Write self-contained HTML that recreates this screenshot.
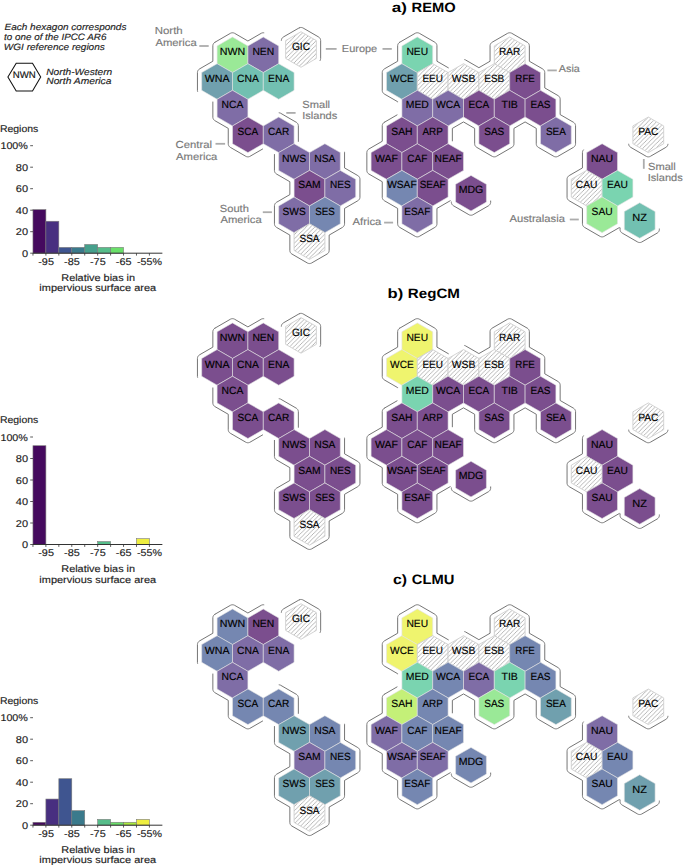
<!DOCTYPE html><html><head><meta charset="utf-8"><title>Hexagon map</title><style>html,body{margin:0;padding:0;background:#fff;}svg{display:block;}text{font-family:"Liberation Sans",sans-serif;text-rendering:geometricPrecision;}</style></head><body>
<svg width="685" height="867" viewBox="0 0 685 867">
<defs><pattern id="hat" patternUnits="userSpaceOnUse" width="4.3" height="4.3"><path d="M-1,1 L1,-1 M0,4.3 L4.3,0 M3.3,5.3 L5.3,3.3" stroke="#7a7a7a" stroke-width="0.55"/></pattern></defs>
<rect width="685" height="867" fill="#fff"/>
<text x="4.47" y="29.80" font-size="9.16" textLength="121.99" lengthAdjust="spacingAndGlyphs" fill="#222" stroke="#222" stroke-width="0.15" font-style="italic">Each hexagon corresponds</text>
<text x="4.14" y="39.70" font-size="9.16" textLength="102.32" lengthAdjust="spacingAndGlyphs" fill="#222" stroke="#222" stroke-width="0.15" font-style="italic">to one of the IPCC AR6</text>
<text x="3.84" y="49.70" font-size="9.16" textLength="100.97" lengthAdjust="spacingAndGlyphs" fill="#222" stroke="#222" stroke-width="0.15" font-style="italic">WGI reference regions</text>
<polygon points="7.90,77.10 16.20,63.30 32.50,63.30 40.70,77.10 32.50,91.00 16.20,91.00" fill="none" stroke="#111" stroke-width="1.05" stroke-linejoin="miter"/>
<text x="12.81" y="77.90" font-size="9.37" textLength="22.98" lengthAdjust="spacingAndGlyphs" fill="#111" stroke="#111" stroke-width="0.15">NWN</text>
<text x="46.27" y="74.80" font-size="9.16" textLength="66.01" lengthAdjust="spacingAndGlyphs" fill="#222" stroke="#222" stroke-width="0.15" font-style="italic">North-Western</text>
<text x="46.27" y="84.30" font-size="9.16" textLength="65.16" lengthAdjust="spacingAndGlyphs" fill="#222" stroke="#222" stroke-width="0.15" font-style="italic">North America</text>
<text x="391.74" y="12.00" font-size="13.64" font-weight="bold" textLength="15.14" lengthAdjust="spacingAndGlyphs" fill="#000">a)</text>
<text x="411.54" y="12.00" font-size="13.64" font-weight="bold" textLength="44.12" lengthAdjust="spacingAndGlyphs" fill="#000">REMO</text>
<g>
<polygon points="232.50,37.02 247.90,45.91 247.90,63.69 232.50,72.58 217.10,63.69 217.10,45.91" fill="#9ae997" stroke="#e2e2e2" stroke-width="0.6"/>
<polygon points="263.30,37.02 278.70,45.91 278.70,63.69 263.30,72.58 247.90,63.69 247.90,45.91" fill="#7f6da6" stroke="#e2e2e2" stroke-width="0.6"/>
<polygon points="217.10,63.69 232.50,72.58 232.50,90.37 217.10,99.26 201.70,90.37 201.70,72.58" fill="#70a0ae" stroke="#e2e2e2" stroke-width="0.6"/>
<polygon points="247.90,63.69 263.30,72.58 263.30,90.37 247.90,99.26 232.50,90.37 232.50,72.58" fill="#72c0b1" stroke="#e2e2e2" stroke-width="0.6"/>
<polygon points="278.70,63.69 294.10,72.58 294.10,90.37 278.70,99.26 263.30,90.37 263.30,72.58" fill="#72c0b1" stroke="#e2e2e2" stroke-width="0.6"/>
<polygon points="232.50,90.37 247.90,99.26 247.90,117.04 232.50,125.93 217.10,117.04 217.10,99.26" fill="#7f6da6" stroke="#e2e2e2" stroke-width="0.6"/>
<polygon points="247.90,117.04 263.30,125.93 263.30,143.71 247.90,152.60 232.50,143.71 232.50,125.93" fill="#7b4e8e" stroke="#e2e2e2" stroke-width="0.6"/>
<polygon points="278.70,117.04 294.10,125.93 294.10,143.71 278.70,152.60 263.30,143.71 263.30,125.93" fill="#7f6da6" stroke="#e2e2e2" stroke-width="0.6"/>
<polygon points="294.10,143.71 309.50,152.60 309.50,170.39 294.10,179.28 278.70,170.39 278.70,152.60" fill="#7f6da6" stroke="#e2e2e2" stroke-width="0.6"/>
<polygon points="324.90,143.71 340.30,152.60 340.30,170.39 324.90,179.28 309.50,170.39 309.50,152.60" fill="#7f6da6" stroke="#e2e2e2" stroke-width="0.6"/>
<polygon points="309.50,170.39 324.90,179.28 324.90,197.06 309.50,205.95 294.10,197.06 294.10,179.28" fill="#7b4e8e" stroke="#e2e2e2" stroke-width="0.6"/>
<polygon points="340.30,170.39 355.70,179.28 355.70,197.06 340.30,205.95 324.90,197.06 324.90,179.28" fill="#7f6da6" stroke="#e2e2e2" stroke-width="0.6"/>
<polygon points="294.10,197.06 309.50,205.95 309.50,223.74 294.10,232.63 278.70,223.74 278.70,205.95" fill="#7f6da6" stroke="#e2e2e2" stroke-width="0.6"/>
<polygon points="324.90,197.06 340.30,205.95 340.30,223.74 324.90,232.63 309.50,223.74 309.50,205.95" fill="#7587b1" stroke="#e2e2e2" stroke-width="0.6"/>
<polygon points="309.50,223.74 324.90,232.63 324.90,250.41 309.50,259.30 294.10,250.41 294.10,232.63" fill="#fff" stroke="#c8c8c8" stroke-width="0.8"/>
<polygon points="309.50,224.24 324.47,232.88 324.47,250.16 309.50,258.80 294.53,250.16 294.53,232.88" fill="url(#hat)"/>
<polygon points="417.30,37.02 432.70,45.91 432.70,63.69 417.30,72.58 401.90,63.69 401.90,45.91" fill="#7ad4b0" stroke="#e2e2e2" stroke-width="0.6"/>
<polygon points="509.70,37.02 525.10,45.91 525.10,63.69 509.70,72.58 494.30,63.69 494.30,45.91" fill="#fff" stroke="#c8c8c8" stroke-width="0.8"/>
<polygon points="509.70,37.52 524.67,46.16 524.67,63.44 509.70,72.08 494.73,63.44 494.73,46.16" fill="url(#hat)"/>
<polygon points="401.90,63.69 417.30,72.58 417.30,90.37 401.90,99.26 386.50,90.37 386.50,72.58" fill="#70a0ae" stroke="#e2e2e2" stroke-width="0.6"/>
<polygon points="432.70,63.69 448.10,72.58 448.10,90.37 432.70,99.26 417.30,90.37 417.30,72.58" fill="#fff" stroke="#c8c8c8" stroke-width="0.8"/>
<polygon points="432.70,64.19 447.67,72.83 447.67,90.12 432.70,98.76 417.73,90.12 417.73,72.83" fill="url(#hat)"/>
<polygon points="463.50,63.69 478.90,72.58 478.90,90.37 463.50,99.26 448.10,90.37 448.10,72.58" fill="#fff" stroke="#c8c8c8" stroke-width="0.8"/>
<polygon points="463.50,64.19 478.47,72.83 478.47,90.12 463.50,98.76 448.53,90.12 448.53,72.83" fill="url(#hat)"/>
<polygon points="494.30,63.69 509.70,72.58 509.70,90.37 494.30,99.26 478.90,90.37 478.90,72.58" fill="#fff" stroke="#c8c8c8" stroke-width="0.8"/>
<polygon points="494.30,64.19 509.27,72.83 509.27,90.12 494.30,98.76 479.33,90.12 479.33,72.83" fill="url(#hat)"/>
<polygon points="525.10,63.69 540.50,72.58 540.50,90.37 525.10,99.26 509.70,90.37 509.70,72.58" fill="#7b4e8e" stroke="#e2e2e2" stroke-width="0.6"/>
<polygon points="417.30,90.37 432.70,99.26 432.70,117.04 417.30,125.93 401.90,117.04 401.90,99.26" fill="#7f6da6" stroke="#e2e2e2" stroke-width="0.6"/>
<polygon points="448.10,90.37 463.50,99.26 463.50,117.04 448.10,125.93 432.70,117.04 432.70,99.26" fill="#7f6da6" stroke="#e2e2e2" stroke-width="0.6"/>
<polygon points="478.90,90.37 494.30,99.26 494.30,117.04 478.90,125.93 463.50,117.04 463.50,99.26" fill="#7b4e8e" stroke="#e2e2e2" stroke-width="0.6"/>
<polygon points="509.70,90.37 525.10,99.26 525.10,117.04 509.70,125.93 494.30,117.04 494.30,99.26" fill="#7b4e8e" stroke="#e2e2e2" stroke-width="0.6"/>
<polygon points="540.50,90.37 555.90,99.26 555.90,117.04 540.50,125.93 525.10,117.04 525.10,99.26" fill="#7b4e8e" stroke="#e2e2e2" stroke-width="0.6"/>
<polygon points="401.90,117.04 417.30,125.93 417.30,143.71 401.90,152.60 386.50,143.71 386.50,125.93" fill="#7b4e8e" stroke="#e2e2e2" stroke-width="0.6"/>
<polygon points="432.70,117.04 448.10,125.93 448.10,143.71 432.70,152.60 417.30,143.71 417.30,125.93" fill="#7b4e8e" stroke="#e2e2e2" stroke-width="0.6"/>
<polygon points="494.30,117.04 509.70,125.93 509.70,143.71 494.30,152.60 478.90,143.71 478.90,125.93" fill="#7b4e8e" stroke="#e2e2e2" stroke-width="0.6"/>
<polygon points="555.90,117.04 571.30,125.93 571.30,143.71 555.90,152.60 540.50,143.71 540.50,125.93" fill="#7f6da6" stroke="#e2e2e2" stroke-width="0.6"/>
<polygon points="386.50,143.71 401.90,152.60 401.90,170.39 386.50,179.28 371.10,170.39 371.10,152.60" fill="#7b4e8e" stroke="#e2e2e2" stroke-width="0.6"/>
<polygon points="417.30,143.71 432.70,152.60 432.70,170.39 417.30,179.28 401.90,170.39 401.90,152.60" fill="#7b4e8e" stroke="#e2e2e2" stroke-width="0.6"/>
<polygon points="448.10,143.71 463.50,152.60 463.50,170.39 448.10,179.28 432.70,170.39 432.70,152.60" fill="#7b4e8e" stroke="#e2e2e2" stroke-width="0.6"/>
<polygon points="401.90,170.39 417.30,179.28 417.30,197.06 401.90,205.95 386.50,197.06 386.50,179.28" fill="#7587b1" stroke="#e2e2e2" stroke-width="0.6"/>
<polygon points="432.70,170.39 448.10,179.28 448.10,197.06 432.70,205.95 417.30,197.06 417.30,179.28" fill="#7b4e8e" stroke="#e2e2e2" stroke-width="0.6"/>
<polygon points="417.30,197.06 432.70,205.95 432.70,223.74 417.30,232.63 401.90,223.74 401.90,205.95" fill="#7f6da6" stroke="#e2e2e2" stroke-width="0.6"/>
<polygon points="602.10,143.71 617.50,152.60 617.50,170.39 602.10,179.28 586.70,170.39 586.70,152.60" fill="#7b4e8e" stroke="#e2e2e2" stroke-width="0.6"/>
<polygon points="586.70,170.39 602.10,179.28 602.10,197.06 586.70,205.95 571.30,197.06 571.30,179.28" fill="#fff" stroke="#c8c8c8" stroke-width="0.8"/>
<polygon points="586.70,170.89 601.67,179.53 601.67,196.81 586.70,205.45 571.73,196.81 571.73,179.53" fill="url(#hat)"/>
<polygon points="617.50,170.39 632.90,179.28 632.90,197.06 617.50,205.95 602.10,197.06 602.10,179.28" fill="#7ad4b0" stroke="#e2e2e2" stroke-width="0.6"/>
<polygon points="602.10,197.06 617.50,205.95 617.50,223.74 602.10,232.63 586.70,223.74 586.70,205.95" fill="#9ae997" stroke="#e2e2e2" stroke-width="0.6"/>
<polygon points="648.30,117.04 663.70,125.93 663.70,143.71 648.30,152.60 632.90,143.71 632.90,125.93" fill="#fff" stroke="#c8c8c8" stroke-width="0.8"/>
<polygon points="648.30,117.54 663.27,126.18 663.27,143.46 648.30,152.10 633.33,143.46 633.33,126.18" fill="url(#hat)"/>
<polygon points="301.00,31.72 316.40,40.61 316.40,58.39 301.00,67.28 285.60,58.39 285.60,40.61" fill="#fff" stroke="#c8c8c8" stroke-width="0.8"/>
<polygon points="301.00,32.22 315.97,40.86 315.97,58.14 301.00,66.78 286.03,58.14 286.03,40.86" fill="url(#hat)"/>
<polygon points="471.00,175.42 486.40,184.31 486.40,202.09 471.00,210.98 455.60,202.09 455.60,184.31" fill="#7b4e8e" stroke="#e2e2e2" stroke-width="0.6"/>
<polygon points="639.70,202.72 655.10,211.61 655.10,229.39 639.70,238.28 624.30,229.39 624.30,211.61" fill="#72c0b1" stroke="#e2e2e2" stroke-width="0.6"/>
</g>
<g fill="none" stroke="#5c5c5c" stroke-width="0.85" stroke-linecap="round" stroke-linejoin="round">
<path d="M197.60,91.48 L197.57,91.37 L197.57,91.36 L197.49,90.97 L197.49,90.97 L197.45,90.57 L197.45,90.57 L197.45,90.37 L197.45,72.58 L197.45,72.38 L197.45,72.38 L197.49,71.98 L197.49,71.98 L197.57,71.58 L197.57,71.58 L197.68,71.19 L197.68,71.19 L197.83,70.82 L197.84,70.82 L198.02,70.46 L198.02,70.46 L198.24,70.12 L198.24,70.12 L198.49,69.80 L198.49,69.80 L198.77,69.51 L198.77,69.51 L199.07,69.24 L199.07,69.24 L199.40,69.01 L199.40,69.01 L199.57,68.90 L212.85,61.24 L212.85,45.91 L212.85,45.71 L212.85,45.70 L212.89,45.31 L212.89,45.30 L212.97,44.91 L212.97,44.90 L213.08,44.52 L213.08,44.52 L213.23,44.15 L213.24,44.14 L213.42,43.79 L213.42,43.78 L213.64,43.45 L213.64,43.44 L213.89,43.13 L213.89,43.12 L214.17,42.83 L214.17,42.83 L214.47,42.57 L214.47,42.57 L214.80,42.33 M214.80,42.33 L214.80,42.33 L214.97,42.23 L230.37,33.34 L230.55,33.24 L230.55,33.24 L230.92,33.07 L230.92,33.07 L231.30,32.94 L231.30,32.94 L231.69,32.84 L231.70,32.84 L232.09,32.79 L232.10,32.79 L232.50,32.77 L232.50,32.77 L232.90,32.79 L232.91,32.79 L233.30,32.84 L233.31,32.84 L233.70,32.94 L233.70,32.94 L234.08,33.07 L234.08,33.07 L234.45,33.24 L234.45,33.24 L234.63,33.34 L247.90,41.00 L261.17,33.34 L261.35,33.24 L261.35,33.24 L261.72,33.07 L261.72,33.07 L262.10,32.94 L262.10,32.94 L262.49,32.84 L262.50,32.84 L262.89,32.79 L262.90,32.79 L263.30,32.77 L263.30,32.77 L263.70,32.79 L263.71,32.79 L263.81,32.80"/>
<path d="M281.36,40.31 L281.39,40.01 L281.39,40.00 L281.47,39.61 L281.47,39.60 L281.58,39.22 L281.58,39.22 L281.73,38.85 L281.74,38.84 L281.92,38.49 L281.92,38.48 L282.14,38.15 L282.14,38.14 L282.39,37.83 L282.39,37.82 L282.67,37.53 L282.67,37.53 L282.97,37.27 L282.97,37.27 L283.30,37.03 L283.30,37.03 L283.47,36.93 L298.87,28.04 L299.05,27.94 M299.05,27.94 L299.05,27.94 L299.42,27.77 L299.42,27.77 L299.80,27.64 L299.80,27.64 L300.19,27.54 L300.20,27.54 L300.59,27.49 L300.60,27.49 L301.00,27.47 L301.00,27.47 L301.40,27.49 L301.41,27.49 L301.80,27.54 L301.81,27.54 L302.20,27.64 L302.20,27.64 L302.58,27.77 L302.58,27.77 L302.95,27.94 L302.95,27.94 L303.13,28.04 L318.53,36.93 L318.70,37.03 L318.70,37.03 L319.03,37.27 L319.03,37.27 L319.33,37.53 L319.33,37.53 L319.61,37.82 L319.61,37.83 L319.86,38.14 L319.86,38.15 L320.08,38.48 L320.08,38.49 L320.26,38.84 L320.27,38.85 L320.42,39.22 L320.42,39.22 L320.53,39.60 L320.53,39.61 L320.61,40.00 L320.61,40.01 L320.65,40.40 L320.65,40.41 L320.65,40.61 L320.65,58.39 L320.65,58.59 L320.65,58.60 L320.61,58.99 L320.61,59.00 L320.53,59.39 L320.53,59.40 L320.42,59.78 L320.42,59.78 L320.27,60.15 L320.26,60.16 L320.08,60.51 L320.08,60.52 L320.02,60.62"/>
<path d="M262.59,149.03 L250.03,156.29 L249.85,156.38 L249.85,156.38 L249.48,156.55 L249.48,156.55 L249.10,156.68 L249.10,156.68 L248.71,156.78 L248.70,156.78 L248.31,156.84 L248.30,156.84 L247.90,156.85 L247.90,156.85 L247.50,156.84 L247.49,156.84 L247.10,156.78 L247.09,156.78 L246.70,156.68 L246.70,156.68 L246.32,156.55 L246.32,156.55 L245.95,156.38 L245.95,156.38 L245.77,156.29 L230.37,147.39 L230.20,147.29 L230.20,147.29 L229.87,147.06 L229.87,147.05 L229.57,146.79 L229.57,146.79 L229.29,146.50 L229.29,146.49 L229.04,146.18 L229.04,146.18 L228.82,145.84 L228.82,145.84 L228.64,145.48 L228.63,145.48 L228.48,145.11 L228.48,145.10 L228.37,144.72 L228.37,144.71 L228.29,144.32 L228.29,144.32 L228.25,143.92 L228.25,143.91 L228.25,143.71 L228.25,128.38 L214.97,120.72 L214.80,120.62 L214.80,120.61 L214.47,120.38 L214.47,120.38 L214.17,120.12 L214.17,120.11 L213.89,119.82 L213.89,119.82 L213.64,119.51 L213.64,119.50 L213.42,119.17 L213.42,119.16 L213.24,118.81 L213.23,118.80 L213.08,118.43 L213.08,118.43 L212.97,118.04 L212.97,118.04 L212.89,117.65 L212.89,117.64 L212.85,117.24 L212.85,117.24 L212.85,117.04 L212.85,102.00"/>
<path d="M279.15,112.82 L279.50,112.87 L279.51,112.87 L279.90,112.96 L279.90,112.96 L280.28,113.09 L280.28,113.09 L280.65,113.26 L280.65,113.26 L280.83,113.36 L296.23,122.25 L296.40,122.35 L296.40,122.36 L296.73,122.59 L296.73,122.59 L297.03,122.85 L297.03,122.86 L297.31,123.15 L297.31,123.15 L297.56,123.46 L297.56,123.47 L297.78,123.80 L297.78,123.81 L297.96,124.16 L297.97,124.17 L298.12,124.54 L298.12,124.54 L298.23,124.93 L298.23,124.93 L298.31,125.32 L298.31,125.33 L298.35,125.73 L298.35,125.73 L298.35,125.93 L298.35,141.40"/>
<path d="M344.51,152.00 L344.51,152.00 L344.55,152.40 L344.55,152.40 L344.55,152.60 L344.55,167.93 L357.83,175.60 L358.00,175.70 L358.00,175.70 L358.33,175.94 L358.33,175.94 L358.63,176.20 L358.63,176.20 L358.91,176.49 L358.91,176.50 L359.16,176.81 L359.16,176.82 L359.38,177.15 L359.38,177.16 L359.56,177.51 L359.57,177.52 L359.72,177.89 L359.72,177.89 L359.83,178.27 L359.83,178.28 L359.91,178.67 L359.91,178.68 L359.95,179.07 L359.95,179.08 L359.95,179.28 L359.95,197.06 L359.95,197.26 L359.95,197.27 L359.91,197.66 L359.91,197.67 L359.83,198.06 L359.83,198.07 L359.72,198.45 L359.72,198.45 L359.57,198.82 L359.56,198.83 L359.38,199.18 L359.38,199.19 L359.16,199.52 L359.16,199.53 L358.91,199.84 L358.91,199.85 L358.63,200.14 L358.63,200.14 L358.33,200.40 L358.33,200.40 L358.00,200.64 L358.00,200.64 L357.83,200.74 L344.55,208.41 L344.55,223.74 L344.55,223.94 L344.55,223.94 L344.51,224.34 L344.51,224.34 L344.43,224.73 L344.43,224.74 L344.32,225.12 L344.32,225.13 L344.17,225.50 L344.16,225.50 L343.98,225.86 L343.98,225.86 L343.76,226.20 L343.76,226.20 L343.51,226.52 L343.51,226.52 L343.23,226.81 L343.23,226.81 L342.93,227.07 L342.93,227.08 L342.60,227.31 L342.60,227.31 L342.43,227.42 L329.15,235.08 L329.15,250.41 L329.15,250.61 L329.15,250.61 L329.11,251.01 L329.11,251.02 L329.03,251.41 L329.03,251.41 L328.92,251.80 L328.92,251.80 L328.77,252.17 L328.76,252.18 L328.58,252.53 L328.58,252.54 L328.36,252.87 L328.36,252.88 L328.11,253.19 L328.11,253.19 L327.83,253.48 L327.83,253.49 L327.53,253.75 L327.53,253.75 L327.20,253.98 L327.20,253.99 L327.03,254.09 L311.63,262.98 L311.45,263.08 L311.45,263.08 L311.08,263.25 L311.08,263.25 L310.70,263.38 L310.70,263.38 L310.31,263.47 L310.30,263.47 L309.91,263.53 L309.90,263.53 L309.50,263.55 L309.50,263.55 L309.10,263.53 L309.09,263.53 L308.70,263.47 L308.69,263.47 L308.30,263.38 L308.30,263.38 L307.92,263.25 L307.92,263.25 L307.55,263.08 L307.55,263.08 L307.37,262.98 L291.97,254.09 L291.80,253.99 L291.80,253.98 L291.47,253.75 L291.47,253.75 L291.17,253.49 L291.17,253.48 L290.89,253.19 L290.89,253.19 L290.64,252.88 L290.64,252.87 L290.42,252.54 L290.42,252.53 L290.24,252.18 L290.23,252.17 L290.08,251.80 L290.08,251.80 L289.97,251.41 L289.97,251.41 L289.89,251.02 L289.89,251.01 L289.85,250.61 L289.85,250.61 L289.85,250.41 L289.85,235.08 L276.57,227.42 L276.40,227.31 L276.40,227.31 L276.07,227.08 L276.07,227.07 L275.77,226.81 L275.77,226.81 L275.49,226.52 L275.49,226.52 L275.24,226.20 L275.24,226.20 L275.02,225.86 L275.02,225.86 L274.84,225.50 L274.83,225.50 L274.68,225.13 L274.68,225.12 L274.57,224.74 L274.57,224.73 L274.49,224.34 L274.49,224.34 L274.45,223.94 L274.45,223.94 L274.45,223.74 L274.45,205.95 L274.45,205.75 L274.45,205.75 L274.49,205.35 L274.49,205.35 L274.57,204.95 L274.57,204.95 L274.68,204.56 L274.68,204.56 L274.83,204.19 L274.84,204.19 L275.02,203.83 L275.02,203.83 L275.24,203.49 L275.24,203.49 L275.49,203.17 L275.49,203.17 L275.77,202.88 L275.77,202.88 L276.07,202.61 L276.07,202.61 L276.40,202.38 L276.40,202.38 L276.57,202.27 L289.85,194.61 L289.85,181.73 L276.57,174.07 L276.40,173.96 L276.40,173.96 L276.07,173.73 L276.07,173.73 L275.77,173.46 L275.77,173.46 L275.49,173.17 L275.49,173.17 L275.24,172.85 L275.24,172.85 L275.02,172.51 L275.02,172.51 L274.84,172.15 L274.83,172.15 L274.68,171.78 L274.68,171.78 L274.57,171.39 L274.57,171.39 L274.49,170.99 L274.49,170.99 L274.45,170.59 L274.45,170.59 L274.45,170.39 L274.45,154.50"/>
<path d="M397.65,101.80 L397.65,101.71 L384.37,94.05 L384.20,93.94 L384.20,93.94 L383.87,93.71 L383.87,93.70 L383.57,93.44 L383.57,93.44 L383.29,93.15 L383.29,93.15 L383.04,92.83 L383.04,92.83 L382.82,92.49 L382.82,92.49 L382.64,92.13 L382.63,92.13 L382.48,91.76 L382.48,91.75 L382.37,91.37 L382.37,91.36 L382.29,90.97 L382.29,90.97 L382.25,90.57 L382.25,90.57 L382.25,90.37 L382.25,72.58 L382.25,72.38 L382.25,72.38 L382.29,71.98 L382.29,71.98 L382.37,71.58 L382.37,71.58 L382.48,71.19 L382.48,71.19 L382.63,70.82 L382.64,70.82 L382.82,70.46 L382.82,70.46 L383.04,70.12 L383.04,70.12 L383.29,69.80 L383.29,69.80 L383.57,69.51 L383.57,69.51 L383.87,69.24 L383.87,69.24 L384.20,69.01 L384.20,69.01 L384.37,68.90 L397.65,61.24 L397.65,45.91 L397.65,45.71 L397.65,45.70 L397.69,45.31 L397.69,45.30 L397.77,44.91 L397.77,44.90 L397.88,44.52 L397.88,44.52 L398.03,44.15 L398.04,44.14 L398.22,43.79 L398.22,43.78 L398.44,43.45 L398.44,43.44 L398.69,43.13 L398.69,43.12 L398.97,42.83 L398.97,42.83 L399.27,42.57 L399.27,42.57 L399.60,42.33 M399.60,42.33 L399.60,42.33 L399.77,42.23 L415.17,33.34 L415.35,33.24 L415.35,33.24 L415.72,33.07 L415.72,33.07 L416.10,32.94 L416.10,32.94 L416.49,32.84 L416.50,32.84 L416.89,32.79 L416.90,32.79 L417.30,32.77 L417.30,32.77 L417.70,32.79 L417.71,32.79 L418.10,32.84 L418.11,32.84 L418.50,32.94 L418.50,32.94 L418.88,33.07 L418.88,33.07 L419.25,33.24 L419.25,33.24 L419.43,33.34 L434.83,42.23 L435.00,42.33 L435.00,42.33 L435.33,42.57 L435.33,42.57 L435.63,42.83 L435.63,42.83 L435.91,43.12 L435.91,43.13 L436.16,43.44 L436.16,43.45 L436.38,43.78 L436.38,43.79 L436.56,44.14 L436.57,44.15 L436.72,44.52 L436.72,44.52 L436.83,44.90 L436.83,44.91 L436.91,45.30 L436.91,45.31 L436.95,45.70 L436.95,45.71 L436.95,45.91 L436.95,61.24 L448.37,67.83"/>
<path d="M464.67,59.61 L464.70,59.61 L464.70,59.61 L465.08,59.74 L465.08,59.75 L465.45,59.91 L465.45,59.91 L465.63,60.01 L478.90,67.68 L490.05,61.24 L490.05,45.91 L490.05,45.71 L490.05,45.70 L490.09,45.31 L490.09,45.30 L490.17,44.91 L490.17,44.90 L490.28,44.52 L490.28,44.52 L490.43,44.15 L490.44,44.14 L490.62,43.79 L490.62,43.78 L490.84,43.45 L490.84,43.44 L491.09,43.13 L491.09,43.12 L491.37,42.83 L491.37,42.83 L491.67,42.57 L491.67,42.57 L492.00,42.33 L492.00,42.33 L492.17,42.23 L507.57,33.34 L507.75,33.24 L507.75,33.24 L508.12,33.07 L508.12,33.07 L508.50,32.94 L508.50,32.94 L508.89,32.84 L508.90,32.84 L509.29,32.79 L509.30,32.79 L509.70,32.77 L509.70,32.77 L510.10,32.79 L510.11,32.79 L510.50,32.84 L510.51,32.84 L510.90,32.94 L510.90,32.94 L511.28,33.07 L511.28,33.07 L511.65,33.24 L511.65,33.24 L511.83,33.34 L527.23,42.23 L527.40,42.33 L527.40,42.33 L527.73,42.57 L527.73,42.57 L528.03,42.83 L528.03,42.83 L528.31,43.12 L528.31,43.13 L528.56,43.44 L528.56,43.45 L528.78,43.78 L528.78,43.79 L528.96,44.14 L528.97,44.15 L529.12,44.52 L529.12,44.52 L529.23,44.90 L529.23,44.91 L529.31,45.30 L529.31,45.31 L529.35,45.70 L529.35,45.71 L529.35,45.91 L529.35,61.24 L542.63,68.90 L542.80,69.01 L542.80,69.01 L543.13,69.24 L543.13,69.24 L543.43,69.51 L543.43,69.51 L543.71,69.80 L543.71,69.80 L543.96,70.12 L543.96,70.12 L544.18,70.46 L544.18,70.46 L544.36,70.82 L544.37,70.82 L544.52,71.19 L544.52,71.19 L544.63,71.58 L544.63,71.58 L544.71,71.98 L544.71,71.98 L544.75,72.38 L544.75,72.38 L544.75,72.58 L544.75,87.91 L558.03,95.58 L558.20,95.68 L558.20,95.68 L558.53,95.91 L558.53,95.92 L558.83,96.18 L558.83,96.18 L559.11,96.47 L559.11,96.48 L559.36,96.79 L559.36,96.79 L559.58,97.13 L559.58,97.13 L559.76,97.49 L559.77,97.49 L559.92,97.86 L559.92,97.87 L560.03,98.25 L560.03,98.26 L560.11,98.65 L560.11,98.65 L560.15,99.05 L560.15,99.06 L560.15,99.26 L560.15,114.59 L573.43,122.25 L573.60,122.35 L573.60,122.36 L573.93,122.59 L573.93,122.59 L574.23,122.85 L574.23,122.86 L574.51,123.15 L574.51,123.15 L574.76,123.46 L574.76,123.47 L574.98,123.80 L574.98,123.81 L575.16,124.16 L575.17,124.17 L575.32,124.54 L575.32,124.54 L575.43,124.93 L575.43,124.93 L575.51,125.32 L575.51,125.33 L575.55,125.73 L575.55,125.73 L575.55,125.93 L575.55,143.71 L575.55,143.91 L575.55,143.92 L575.51,144.32 L575.51,144.32 L575.43,144.71 L575.43,144.72 L575.32,145.10 L575.32,145.11 L575.17,145.48 L575.16,145.48 L574.98,145.84 L574.98,145.84 L574.76,146.18 L574.76,146.18 L574.51,146.49 L574.51,146.50 L574.23,146.79 L574.23,146.79 L573.93,147.05 L573.93,147.06 L573.60,147.29 L573.60,147.29 L573.43,147.39 L558.03,156.29 L557.85,156.38 L557.85,156.38 L557.48,156.55 L557.48,156.55 L557.10,156.68 L557.10,156.68 L556.71,156.78 L556.70,156.78 L556.31,156.84 L556.30,156.84 L555.90,156.85 L555.90,156.85 L555.50,156.84 L555.49,156.84 L555.10,156.78 L555.09,156.78 L554.70,156.68 L554.70,156.68 L554.32,156.55 L554.32,156.55 L553.95,156.38 L553.95,156.38 L553.77,156.29 L538.37,147.39 L538.20,147.29 L538.20,147.29 L537.87,147.06 L537.87,147.05 L537.57,146.79 L537.57,146.79 L537.29,146.50 L537.29,146.49 L537.04,146.18 L537.04,146.18 L536.82,145.84 L536.82,145.84 L536.64,145.48 L536.63,145.48 L536.48,145.11 L536.48,145.10 L536.37,144.72 L536.37,144.71 L536.29,144.32 L536.29,144.32 L536.25,143.92 L536.25,143.91 L536.25,143.71 L536.25,128.38 L525.10,121.95 L513.95,128.38 L513.95,143.71 L513.95,143.91 L513.95,143.92 L513.91,144.32 L513.91,144.32 L513.83,144.71 L513.83,144.72 L513.72,145.10 L513.72,145.11 L513.57,145.48 L513.56,145.48 L513.38,145.84 L513.38,145.84 L513.16,146.18 L513.16,146.18 L512.91,146.49 L512.91,146.50 L512.63,146.79 L512.63,146.79 L512.33,147.05 L512.33,147.06 L512.00,147.29 L512.00,147.29 L511.83,147.39 L496.43,156.29 L496.25,156.38 L496.25,156.38 L495.88,156.55 L495.88,156.55 L495.50,156.68 L495.50,156.68 L495.11,156.78 L495.10,156.78 L494.71,156.84 L494.70,156.84 L494.30,156.85 L494.30,156.85 L493.90,156.84 L493.89,156.84 L493.50,156.78 L493.49,156.78 L493.10,156.68 L493.10,156.68 L492.72,156.55 L492.72,156.55 L492.35,156.38 L492.35,156.38 L492.17,156.29 L476.77,147.39 L476.60,147.29 L476.60,147.29 L476.27,147.06 L476.27,147.05 L475.97,146.79 L475.97,146.79 L475.69,146.50 L475.69,146.49 L475.44,146.18 L475.44,146.18 L475.22,145.84 L475.22,145.84 L475.04,145.48 L475.03,145.48 L474.88,145.11 L474.88,145.10 L474.77,144.72 L474.77,144.71 L474.69,144.32 L474.69,144.32 L474.65,143.92 L474.65,143.91 L474.65,143.71 L474.65,128.38 L463.50,121.95 L452.35,128.38 L452.35,140.90"/>
<path d="M450.19,200.76 L436.95,208.41 L436.95,223.74 L436.95,223.94 L436.95,223.94 L436.91,224.34 L436.91,224.34 L436.83,224.73 L436.83,224.74 L436.72,225.12 L436.72,225.13 L436.57,225.50 L436.56,225.50 L436.38,225.86 L436.38,225.86 L436.16,226.20 L436.16,226.20 L435.91,226.52 L435.91,226.52 L435.63,226.81 L435.63,226.81 L435.33,227.07 L435.33,227.08 L435.00,227.31 L435.00,227.31 L434.83,227.42 L419.43,236.31 L419.25,236.40 L419.25,236.41 L418.88,236.57 L418.88,236.57 L418.50,236.70 L418.50,236.71 L418.11,236.80 L418.10,236.80 L417.71,236.86 L417.70,236.86 L417.30,236.88 L417.30,236.88 L416.90,236.86 L416.89,236.86 L416.50,236.80 L416.49,236.80 L416.10,236.71 L416.10,236.70 L415.72,236.57 L415.72,236.57 L415.35,236.41 L415.35,236.40 L415.17,236.31 L399.77,227.42 L399.60,227.31 L399.60,227.31 L399.27,227.08 L399.27,227.07 L398.97,226.81 L398.97,226.81 L398.69,226.52 L398.69,226.52 L398.44,226.20 L398.44,226.20 L398.22,225.86 L398.22,225.86 L398.04,225.50 L398.03,225.50 L397.88,225.13 L397.88,225.12 L397.77,224.74 L397.77,224.73 L397.69,224.34 L397.69,224.34 L397.65,223.94 L397.65,223.94 L397.65,223.74 L397.65,208.41 L384.37,200.74 L384.20,200.64 L384.20,200.64 L383.87,200.40 L383.87,200.40 L383.57,200.14 L383.57,200.14 L383.29,199.85 L383.29,199.84 L383.04,199.53 L383.04,199.52 L382.82,199.19 L382.82,199.18 L382.64,198.83 L382.63,198.82 L382.48,198.45 L382.48,198.45 L382.37,198.07 L382.37,198.06 L382.29,197.67 L382.29,197.66 L382.25,197.27 L382.25,197.26 L382.25,197.06 L382.25,181.73 L368.97,174.07 L368.80,173.96 L368.80,173.96 L368.47,173.73 L368.47,173.73 L368.17,173.46 L368.17,173.46 L367.89,173.17 L367.89,173.17 L367.64,172.85 L367.64,172.85 L367.42,172.51 L367.42,172.51 L367.24,172.15 L367.23,172.15 L367.08,171.78 L367.08,171.78 L366.97,171.39 L366.97,171.39 L366.89,170.99 L366.89,170.99 L366.85,170.59 L366.85,170.59 L366.85,170.39 L366.85,152.60 L366.85,152.40 L366.85,152.40 L366.89,152.00 L366.89,152.00 L366.97,151.61 L366.97,151.60 L367.08,151.22 L367.08,151.21 L367.23,150.84 L367.24,150.84 L367.42,150.48 L367.42,150.48 L367.64,150.14 L367.64,150.14 L367.89,149.82 L367.89,149.82 L368.17,149.53 L368.17,149.53 L368.47,149.27 L368.47,149.26 L368.80,149.03 L368.80,149.03 L368.97,148.92 L382.25,141.26 L382.25,125.93 L382.25,125.73 L382.25,125.73 L382.29,125.33 L382.29,125.32 L382.37,124.93 L382.37,124.93 L382.48,124.54 L382.48,124.54 L382.63,124.17 L382.64,124.16 L382.82,123.81 L382.82,123.80 L383.04,123.47 L383.04,123.46 L383.29,123.15 L383.29,123.15 L383.57,122.86 L383.57,122.85 L383.87,122.59 L383.87,122.59 L384.20,122.36 M384.20,122.36 L384.20,122.35 L384.37,122.25 L397.05,114.93"/>
<path d="M490.65,201.00 L490.65,202.09 L490.65,202.29 L490.65,202.30 L490.61,202.69 L490.61,202.70 L490.53,203.09 L490.53,203.10 L490.42,203.48 L490.42,203.48 L490.27,203.85 L490.26,203.86 L490.08,204.21 L490.08,204.22 L489.86,204.55 L489.86,204.56 L489.61,204.87 L489.61,204.88 L489.33,205.17 L489.33,205.17 L489.03,205.43 L489.03,205.43 L488.70,205.67 L488.70,205.67 L488.53,205.77 L473.13,214.66 L472.95,214.76 L472.95,214.76 L472.58,214.93 L472.58,214.93 L472.20,215.06 L472.20,215.06 L471.81,215.16 L471.80,215.16 L471.41,215.21 L471.40,215.21 L471.00,215.23 L471.00,215.23 L470.60,215.21 L470.59,215.21 L470.20,215.16 L470.19,215.16 L469.80,215.06 L469.80,215.06 L469.42,214.93 L469.42,214.93 L469.05,214.76 L469.05,214.76 L468.87,214.66 L453.47,205.77 L453.30,205.67 L453.30,205.67 L452.97,205.43 L452.97,205.43 L452.67,205.17 L452.67,205.17 L452.39,204.88 L452.39,204.87 L452.14,204.56 L452.14,204.55 L451.92,204.22 L451.92,204.21 L451.74,203.86 L451.73,203.85 L451.58,203.48 L451.58,203.48 L451.47,203.10 L451.47,203.09 L451.39,202.70 L451.39,202.69 L451.35,202.30 L451.35,202.29 L451.35,202.09 L451.35,202.00"/>
<path d="M619.28,227.62 L604.23,236.31 L604.05,236.40 L604.05,236.41 L603.68,236.57 L603.68,236.57 L603.30,236.70 L603.30,236.71 L602.91,236.80 L602.90,236.80 L602.51,236.86 L602.50,236.86 L602.10,236.88 L602.10,236.88 L601.70,236.86 L601.69,236.86 L601.30,236.80 L601.29,236.80 L600.90,236.71 L600.90,236.70 L600.52,236.57 L600.52,236.57 L600.15,236.41 L600.15,236.40 L599.97,236.31 L584.57,227.42 L584.40,227.31 L584.40,227.31 L584.07,227.08 L584.07,227.07 L583.77,226.81 L583.77,226.81 L583.49,226.52 L583.49,226.52 L583.24,226.20 L583.24,226.20 L583.02,225.86 L583.02,225.86 L582.84,225.50 L582.83,225.50 L582.68,225.13 L582.68,225.12 L582.57,224.74 L582.57,224.73 L582.49,224.34 L582.49,224.34 L582.45,223.94 L582.45,223.94 L582.45,223.74 L582.45,208.41 L569.17,200.74 L569.00,200.64 L569.00,200.64 L568.67,200.40 L568.67,200.40 L568.37,200.14 L568.37,200.14 L568.09,199.85 L568.09,199.84 L567.84,199.53 L567.84,199.52 L567.62,199.19 L567.62,199.18 L567.44,198.83 L567.43,198.82 L567.28,198.45 L567.28,198.45 L567.17,198.07 L567.17,198.06 L567.09,197.67 L567.09,197.66 L567.05,197.27 L567.05,197.26 L567.05,197.06 L567.05,179.28 L567.05,179.08 L567.05,179.07 L567.09,178.68 L567.09,178.67 L567.17,178.28 L567.17,178.27 L567.28,177.89 L567.28,177.89 L567.43,177.52 L567.44,177.51 L567.62,177.16 L567.62,177.15 L567.84,176.82 L567.84,176.81 L568.09,176.50 L568.09,176.49 L568.37,176.20 L568.37,176.20 L568.67,175.94 L568.67,175.94 L569.00,175.70 L569.00,175.70 L569.17,175.60 L582.45,167.93 L582.45,152.60 L582.45,152.40 L582.45,152.40 L582.49,152.00 L582.49,152.00 L582.57,151.61 L582.57,151.60 L582.68,151.22 L582.68,151.21 L582.83,150.84 L582.84,150.84 L583.02,150.48 L583.02,150.48 L583.24,150.14 L583.24,150.14 L583.41,149.92"/>
<path d="M659.35,229.00 L659.35,229.39 L659.35,229.59 L659.35,229.60 L659.31,229.99 L659.31,230.00 L659.23,230.39 L659.23,230.40 L659.12,230.78 L659.12,230.78 L658.97,231.15 L658.96,231.16 L658.78,231.51 L658.78,231.52 L658.56,231.85 L658.56,231.86 L658.31,232.17 L658.31,232.18 L658.03,232.47 L658.03,232.47 L657.73,232.73 L657.73,232.73 L657.40,232.97 L657.40,232.97 L657.23,233.07 L641.83,241.96 L641.65,242.06 L641.65,242.06 L641.28,242.23 L641.28,242.23 L640.90,242.36 L640.90,242.36 L640.51,242.46 L640.50,242.46 L640.11,242.51 L640.10,242.51 L639.70,242.53 L639.70,242.53 L639.30,242.51 L639.29,242.51 L638.90,242.46 L638.89,242.46 L638.50,242.36 L638.50,242.36 L638.12,242.23 L638.12,242.23 L637.75,242.06 L637.75,242.06 L637.57,241.96 L622.17,233.07 L622.00,232.97 L622.00,232.97 L621.67,232.73 L621.67,232.73 L621.37,232.47 L621.37,232.47 L621.09,232.18 L621.09,232.17 L620.84,231.86 L620.84,231.85 L620.62,231.52 L620.62,231.51 L620.44,231.16 L620.43,231.15 L620.28,230.78 L620.28,230.78 L620.17,230.40 L620.17,230.39 L620.09,230.00 L620.09,229.99 L620.05,229.60 L620.05,229.59 L620.05,229.39 L620.05,228.00"/>
<path d="M667.92,144.23 L667.91,144.32 L667.91,144.32 L667.83,144.71 L667.83,144.72 L667.72,145.10 L667.72,145.11 L667.57,145.48 L667.56,145.48 L667.38,145.84 L667.38,145.84 L667.16,146.18 L667.16,146.18 L666.91,146.49 L666.91,146.50 L666.63,146.79 L666.63,146.79 L666.33,147.05 L666.33,147.06 L666.00,147.29 L666.00,147.29 L665.83,147.39 L650.43,156.29 L650.25,156.38 L650.25,156.38 L649.88,156.55 L649.88,156.55 L649.50,156.68 L649.50,156.68 L649.11,156.78 L649.10,156.78 L648.71,156.84 L648.70,156.84 L648.30,156.85 L648.30,156.85 L647.90,156.84 L647.89,156.84 L647.50,156.78 L647.49,156.78 L647.10,156.68 L647.10,156.68 L646.72,156.55 L646.72,156.55 L646.35,156.38 L646.35,156.38 L646.17,156.29 L630.77,147.39 L630.60,147.29 L630.60,147.29 L630.27,147.06 L630.27,147.05 L629.97,146.79 L629.97,146.79 L629.69,146.50 L629.69,146.49 L629.44,146.18 L629.44,146.18 L629.22,145.84 L629.22,145.84 L629.04,145.48 L629.03,145.48 L628.88,145.11 L628.88,145.10 L628.77,144.72 L628.77,144.71 L628.69,144.32 L628.69,144.32 L628.68,144.16"/>
</g>
<text x="219.77" y="54.95" font-size="10.49" textLength="25.47" lengthAdjust="spacingAndGlyphs" fill="#000" stroke="#000" stroke-width="0.15">NWN</text>
<text x="252.39" y="54.95" font-size="10.49" textLength="21.81" lengthAdjust="spacingAndGlyphs" fill="#000" stroke="#000" stroke-width="0.15">NEN</text>
<text x="204.69" y="81.62" font-size="10.49" textLength="24.81" lengthAdjust="spacingAndGlyphs" fill="#000" stroke="#000" stroke-width="0.15">WNA</text>
<text x="236.98" y="81.62" font-size="10.49" textLength="21.84" lengthAdjust="spacingAndGlyphs" fill="#000" stroke="#000" stroke-width="0.15">CNA</text>
<text x="268.12" y="81.62" font-size="10.49" textLength="21.16" lengthAdjust="spacingAndGlyphs" fill="#000" stroke="#000" stroke-width="0.15">ENA</text>
<text x="221.58" y="108.30" font-size="10.49" textLength="21.84" lengthAdjust="spacingAndGlyphs" fill="#000" stroke="#000" stroke-width="0.15">NCA</text>
<text x="237.56" y="134.97" font-size="10.49" textLength="20.68" lengthAdjust="spacingAndGlyphs" fill="#000" stroke="#000" stroke-width="0.15">SCA</text>
<text x="268.05" y="134.97" font-size="10.49" textLength="21.29" lengthAdjust="spacingAndGlyphs" fill="#000" stroke="#000" stroke-width="0.15">CAR</text>
<text x="281.95" y="161.65" font-size="10.49" textLength="24.31" lengthAdjust="spacingAndGlyphs" fill="#000" stroke="#000" stroke-width="0.15">NWS</text>
<text x="314.31" y="161.65" font-size="10.49" textLength="21.19" lengthAdjust="spacingAndGlyphs" fill="#000" stroke="#000" stroke-width="0.15">NSA</text>
<text x="298.32" y="188.32" font-size="10.49" textLength="22.36" lengthAdjust="spacingAndGlyphs" fill="#000" stroke="#000" stroke-width="0.15">SAM</text>
<text x="329.97" y="188.32" font-size="10.49" textLength="20.65" lengthAdjust="spacingAndGlyphs" fill="#000" stroke="#000" stroke-width="0.15">NES</text>
<text x="282.53" y="214.99" font-size="10.49" textLength="23.15" lengthAdjust="spacingAndGlyphs" fill="#000" stroke="#000" stroke-width="0.15">SWS</text>
<text x="315.16" y="214.99" font-size="10.49" textLength="19.49" lengthAdjust="spacingAndGlyphs" fill="#000" stroke="#000" stroke-width="0.15">SES</text>
<text x="299.49" y="241.67" font-size="10.49" textLength="20.02" lengthAdjust="spacingAndGlyphs" fill="#000" stroke="#000" stroke-width="0.15">SSA</text>
<text x="406.48" y="54.95" font-size="10.49" textLength="21.65" lengthAdjust="spacingAndGlyphs" fill="#000" stroke="#000" stroke-width="0.15">NEU</text>
<text x="499.07" y="54.95" font-size="10.49" textLength="21.26" lengthAdjust="spacingAndGlyphs" fill="#000" stroke="#000" stroke-width="0.15">RAR</text>
<text x="390.02" y="81.62" font-size="10.49" textLength="23.77" lengthAdjust="spacingAndGlyphs" fill="#000" stroke="#000" stroke-width="0.15">WCE</text>
<text x="422.47" y="81.62" font-size="10.49" textLength="20.45" lengthAdjust="spacingAndGlyphs" fill="#000" stroke="#000" stroke-width="0.15">EEU</text>
<text x="451.66" y="81.62" font-size="10.49" textLength="23.67" lengthAdjust="spacingAndGlyphs" fill="#000" stroke="#000" stroke-width="0.15">WSB</text>
<text x="484.29" y="81.62" font-size="10.49" textLength="20.01" lengthAdjust="spacingAndGlyphs" fill="#000" stroke="#000" stroke-width="0.15">ESB</text>
<text x="515.35" y="81.62" font-size="10.49" textLength="19.49" lengthAdjust="spacingAndGlyphs" fill="#000" stroke="#000" stroke-width="0.15">RFE</text>
<text x="405.69" y="108.30" font-size="10.49" textLength="23.21" lengthAdjust="spacingAndGlyphs" fill="#000" stroke="#000" stroke-width="0.15">MED</text>
<text x="435.95" y="108.30" font-size="10.49" textLength="24.30" lengthAdjust="spacingAndGlyphs" fill="#000" stroke="#000" stroke-width="0.15">WCA</text>
<text x="468.58" y="108.30" font-size="10.49" textLength="20.65" lengthAdjust="spacingAndGlyphs" fill="#000" stroke="#000" stroke-width="0.15">ECA</text>
<text x="501.54" y="108.30" font-size="10.49" textLength="16.32" lengthAdjust="spacingAndGlyphs" fill="#000" stroke="#000" stroke-width="0.15">TIB</text>
<text x="530.50" y="108.30" font-size="10.49" textLength="19.99" lengthAdjust="spacingAndGlyphs" fill="#000" stroke="#000" stroke-width="0.15">EAS</text>
<text x="391.29" y="134.97" font-size="10.49" textLength="21.23" lengthAdjust="spacingAndGlyphs" fill="#000" stroke="#000" stroke-width="0.15">SAH</text>
<text x="422.54" y="134.97" font-size="10.49" textLength="20.31" lengthAdjust="spacingAndGlyphs" fill="#000" stroke="#000" stroke-width="0.15">ARP</text>
<text x="484.29" y="134.97" font-size="10.49" textLength="20.02" lengthAdjust="spacingAndGlyphs" fill="#000" stroke="#000" stroke-width="0.15">SAS</text>
<text x="545.90" y="134.97" font-size="10.49" textLength="19.99" lengthAdjust="spacingAndGlyphs" fill="#000" stroke="#000" stroke-width="0.15">SEA</text>
<text x="374.98" y="161.65" font-size="10.49" textLength="23.04" lengthAdjust="spacingAndGlyphs" fill="#000" stroke="#000" stroke-width="0.15">WAF</text>
<text x="407.27" y="161.65" font-size="10.49" textLength="20.06" lengthAdjust="spacingAndGlyphs" fill="#000" stroke="#000" stroke-width="0.15">CAF</text>
<text x="434.57" y="161.65" font-size="10.49" textLength="27.05" lengthAdjust="spacingAndGlyphs" fill="#000" stroke="#000" stroke-width="0.15">NEAF</text>
<text x="387.13" y="188.32" font-size="10.49" textLength="29.55" lengthAdjust="spacingAndGlyphs" fill="#000" stroke="#000" stroke-width="0.15">WSAF</text>
<text x="419.75" y="188.32" font-size="10.49" textLength="25.89" lengthAdjust="spacingAndGlyphs" fill="#000" stroke="#000" stroke-width="0.15">SEAF</text>
<text x="404.35" y="214.99" font-size="10.49" textLength="25.89" lengthAdjust="spacingAndGlyphs" fill="#000" stroke="#000" stroke-width="0.15">ESAF</text>
<text x="591.01" y="161.65" font-size="10.49" textLength="22.18" lengthAdjust="spacingAndGlyphs" fill="#000" stroke="#000" stroke-width="0.15">NAU</text>
<text x="575.86" y="188.32" font-size="10.49" textLength="21.67" lengthAdjust="spacingAndGlyphs" fill="#000" stroke="#000" stroke-width="0.15">CAU</text>
<text x="607.00" y="188.32" font-size="10.49" textLength="20.99" lengthAdjust="spacingAndGlyphs" fill="#000" stroke="#000" stroke-width="0.15">EAU</text>
<text x="591.59" y="214.99" font-size="10.49" textLength="21.02" lengthAdjust="spacingAndGlyphs" fill="#000" stroke="#000" stroke-width="0.15">SAU</text>
<text x="638.13" y="134.97" font-size="10.49" textLength="20.35" lengthAdjust="spacingAndGlyphs" fill="#000" stroke="#000" stroke-width="0.15">PAC</text>
<text x="291.94" y="49.65" font-size="10.49" textLength="18.12" lengthAdjust="spacingAndGlyphs" fill="#000" stroke="#000" stroke-width="0.15">GIC</text>
<text x="458.66" y="193.35" font-size="10.49" textLength="24.68" lengthAdjust="spacingAndGlyphs" fill="#000" stroke="#000" stroke-width="0.15">MDG</text>
<text x="632.36" y="220.65" font-size="10.49" textLength="14.69" lengthAdjust="spacingAndGlyphs" fill="#000" stroke="#000" stroke-width="0.15">NZ</text>
<text x="154.73" y="34.30" font-size="10.23" textLength="27.97" lengthAdjust="spacingAndGlyphs" fill="#7a7a7a" stroke="#7a7a7a" stroke-width="0.15">North</text>
<text x="155.42" y="45.90" font-size="10.23" textLength="41.25" lengthAdjust="spacingAndGlyphs" fill="#7a7a7a" stroke="#7a7a7a" stroke-width="0.15">America</text>
<line x1="199.30" y1="46.00" x2="208.70" y2="46.00" stroke="#acacac" stroke-width="1.8"/>
<line x1="325.80" y1="48.90" x2="336.60" y2="48.90" stroke="#acacac" stroke-width="1.8"/>
<text x="341.83" y="51.60" font-size="10.23" textLength="35.39" lengthAdjust="spacingAndGlyphs" fill="#7a7a7a" stroke="#7a7a7a" stroke-width="0.15">Europe</text>
<line x1="382.50" y1="48.90" x2="391.80" y2="48.90" stroke="#acacac" stroke-width="1.8"/>
<line x1="547.40" y1="70.40" x2="556.80" y2="70.40" stroke="#acacac" stroke-width="1.8"/>
<text x="558.82" y="72.40" font-size="10.23" textLength="20.96" lengthAdjust="spacingAndGlyphs" fill="#7a7a7a" stroke="#7a7a7a" stroke-width="0.15">Asia</text>
<line x1="286.30" y1="112.90" x2="295.60" y2="112.90" stroke="#acacac" stroke-width="1.8"/>
<text x="302.34" y="107.80" font-size="10.23" textLength="27.77" lengthAdjust="spacingAndGlyphs" fill="#7a7a7a" stroke="#7a7a7a" stroke-width="0.15">Small</text>
<text x="302.23" y="118.60" font-size="10.23" textLength="34.96" lengthAdjust="spacingAndGlyphs" fill="#7a7a7a" stroke="#7a7a7a" stroke-width="0.15">Islands</text>
<text x="175.54" y="148.00" font-size="10.23" textLength="36.41" lengthAdjust="spacingAndGlyphs" fill="#7a7a7a" stroke="#7a7a7a" stroke-width="0.15">Central</text>
<text x="176.02" y="159.50" font-size="10.23" textLength="41.25" lengthAdjust="spacingAndGlyphs" fill="#7a7a7a" stroke="#7a7a7a" stroke-width="0.15">America</text>
<line x1="215.50" y1="143.80" x2="225.10" y2="143.80" stroke="#acacac" stroke-width="1.8"/>
<text x="219.84" y="211.60" font-size="10.23" textLength="29.06" lengthAdjust="spacingAndGlyphs" fill="#7a7a7a" stroke="#7a7a7a" stroke-width="0.15">South</text>
<text x="220.42" y="223.30" font-size="10.23" textLength="41.25" lengthAdjust="spacingAndGlyphs" fill="#7a7a7a" stroke="#7a7a7a" stroke-width="0.15">America</text>
<line x1="262.80" y1="212.20" x2="271.90" y2="212.20" stroke="#acacac" stroke-width="1.8"/>
<text x="352.52" y="225.10" font-size="10.23" textLength="28.88" lengthAdjust="spacingAndGlyphs" fill="#7a7a7a" stroke="#7a7a7a" stroke-width="0.15">Africa</text>
<line x1="384.10" y1="222.60" x2="393.10" y2="222.60" stroke="#acacac" stroke-width="1.8"/>
<text x="509.42" y="222.00" font-size="10.23" textLength="55.57" lengthAdjust="spacingAndGlyphs" fill="#7a7a7a" stroke="#7a7a7a" stroke-width="0.15">Australasia</text>
<line x1="569.80" y1="219.50" x2="578.80" y2="219.50" stroke="#acacac" stroke-width="1.8"/>
<line x1="643.8" y1="159.0" x2="643.8" y2="168.8" stroke="#acacac" stroke-width="1.8"/>
<text x="648.04" y="169.80" font-size="10.23" textLength="27.77" lengthAdjust="spacingAndGlyphs" fill="#7a7a7a" stroke="#7a7a7a" stroke-width="0.15">Small</text>
<text x="647.73" y="180.50" font-size="10.23" textLength="34.96" lengthAdjust="spacingAndGlyphs" fill="#7a7a7a" stroke="#7a7a7a" stroke-width="0.15">Islands</text>
<rect x="32.96" y="209.62" width="12.94" height="43.58" fill="#450a5e" stroke="#7a7a7a" stroke-width="0.6"/>
<rect x="45.90" y="221.24" width="12.94" height="31.96" fill="#482f80" stroke="#7a7a7a" stroke-width="0.6"/>
<rect x="58.84" y="247.39" width="12.94" height="5.81" fill="#3f5590" stroke="#7a7a7a" stroke-width="0.6"/>
<rect x="71.78" y="247.39" width="12.94" height="5.81" fill="#3a7a8c" stroke="#7a7a7a" stroke-width="0.6"/>
<rect x="84.72" y="244.48" width="12.94" height="8.72" fill="#46a08c" stroke="#7a7a7a" stroke-width="0.6"/>
<rect x="97.66" y="247.39" width="12.94" height="5.81" fill="#56bd8a" stroke="#7a7a7a" stroke-width="0.6"/>
<rect x="110.60" y="247.39" width="12.94" height="5.81" fill="#6ae06a" stroke="#7a7a7a" stroke-width="0.6"/>
<line x1="32.96" y1="253.20" x2="162.36" y2="253.20" stroke="#333" stroke-width="1"/>
<line x1="32.96" y1="253.20" x2="32.96" y2="255.60" stroke="#333" stroke-width="0.8"/>
<line x1="45.90" y1="253.20" x2="45.90" y2="255.60" stroke="#333" stroke-width="0.8"/>
<line x1="58.84" y1="253.20" x2="58.84" y2="255.60" stroke="#333" stroke-width="0.8"/>
<line x1="71.78" y1="253.20" x2="71.78" y2="255.60" stroke="#333" stroke-width="0.8"/>
<line x1="84.72" y1="253.20" x2="84.72" y2="255.60" stroke="#333" stroke-width="0.8"/>
<line x1="97.66" y1="253.20" x2="97.66" y2="255.60" stroke="#333" stroke-width="0.8"/>
<line x1="110.60" y1="253.20" x2="110.60" y2="255.60" stroke="#333" stroke-width="0.8"/>
<line x1="123.54" y1="253.20" x2="123.54" y2="255.60" stroke="#333" stroke-width="0.8"/>
<line x1="136.48" y1="253.20" x2="136.48" y2="255.60" stroke="#333" stroke-width="0.8"/>
<line x1="149.42" y1="253.20" x2="149.42" y2="255.60" stroke="#333" stroke-width="0.8"/>
<text x="38.23" y="265.10" font-size="9.83" textLength="15.72" lengthAdjust="spacingAndGlyphs" fill="#222" stroke="#222" stroke-width="0.15">-95</text>
<text x="64.11" y="265.10" font-size="9.83" textLength="15.72" lengthAdjust="spacingAndGlyphs" fill="#222" stroke="#222" stroke-width="0.15">-85</text>
<text x="89.99" y="265.10" font-size="9.83" textLength="15.72" lengthAdjust="spacingAndGlyphs" fill="#222" stroke="#222" stroke-width="0.15">-75</text>
<text x="115.87" y="265.10" font-size="9.83" textLength="15.72" lengthAdjust="spacingAndGlyphs" fill="#222" stroke="#222" stroke-width="0.15">-65</text>
<text x="137.02" y="265.10" font-size="9.83" textLength="24.87" lengthAdjust="spacingAndGlyphs" fill="#222" stroke="#222" stroke-width="0.15">-55%</text>
<line x1="30.2" y1="253.20" x2="33.0" y2="253.20" stroke="#333" stroke-width="0.8"/>
<text x="21.93" y="256.90" font-size="9.83" textLength="6.12" lengthAdjust="spacingAndGlyphs" fill="#222" stroke="#222" stroke-width="0.15">0</text>
<line x1="30.2" y1="231.70" x2="33.0" y2="231.70" stroke="#333" stroke-width="0.8"/>
<text x="15.81" y="235.40" font-size="9.83" textLength="12.25" lengthAdjust="spacingAndGlyphs" fill="#222" stroke="#222" stroke-width="0.15">20</text>
<line x1="30.2" y1="210.20" x2="33.0" y2="210.20" stroke="#333" stroke-width="0.8"/>
<text x="15.81" y="213.90" font-size="9.83" textLength="12.25" lengthAdjust="spacingAndGlyphs" fill="#222" stroke="#222" stroke-width="0.15">40</text>
<line x1="30.2" y1="188.70" x2="33.0" y2="188.70" stroke="#333" stroke-width="0.8"/>
<text x="15.81" y="192.40" font-size="9.83" textLength="12.25" lengthAdjust="spacingAndGlyphs" fill="#222" stroke="#222" stroke-width="0.15">60</text>
<line x1="30.2" y1="167.20" x2="33.0" y2="167.20" stroke="#333" stroke-width="0.8"/>
<text x="15.81" y="170.90" font-size="9.83" textLength="12.25" lengthAdjust="spacingAndGlyphs" fill="#222" stroke="#222" stroke-width="0.15">80</text>
<line x1="30.2" y1="145.70" x2="33.0" y2="145.70" stroke="#333" stroke-width="0.8"/>
<text x="0.42" y="149.40" font-size="9.83" textLength="27.52" lengthAdjust="spacingAndGlyphs" fill="#222" stroke="#222" stroke-width="0.15">100%</text>
<text x="-0.14" y="132.00" font-size="9.83" textLength="38.40" lengthAdjust="spacingAndGlyphs" fill="#222" stroke="#222" stroke-width="0.15">Regions</text>
<text x="61.27" y="281.10" font-size="9.83" textLength="73.84" lengthAdjust="spacingAndGlyphs" fill="#222" stroke="#222" stroke-width="0.15">Relative bias in</text>
<text x="39.35" y="291.20" font-size="9.83" textLength="116.78" lengthAdjust="spacingAndGlyphs" fill="#222" stroke="#222" stroke-width="0.15">impervious surface area</text>
<text x="387.49" y="297.90" font-size="13.64" font-weight="bold" textLength="15.69" lengthAdjust="spacingAndGlyphs" fill="#000">b)</text>
<text x="407.84" y="297.90" font-size="13.64" font-weight="bold" textLength="52.07" lengthAdjust="spacingAndGlyphs" fill="#000">RegCM</text>
<g>
<polygon points="232.50,322.92 247.90,331.81 247.90,349.59 232.50,358.48 217.10,349.59 217.10,331.81" fill="#7b4e8e" stroke="#e2e2e2" stroke-width="0.6"/>
<polygon points="263.30,322.92 278.70,331.81 278.70,349.59 263.30,358.48 247.90,349.59 247.90,331.81" fill="#7b4e8e" stroke="#e2e2e2" stroke-width="0.6"/>
<polygon points="217.10,349.59 232.50,358.48 232.50,376.27 217.10,385.16 201.70,376.27 201.70,358.48" fill="#7b4e8e" stroke="#e2e2e2" stroke-width="0.6"/>
<polygon points="247.90,349.59 263.30,358.48 263.30,376.27 247.90,385.16 232.50,376.27 232.50,358.48" fill="#7b4e8e" stroke="#e2e2e2" stroke-width="0.6"/>
<polygon points="278.70,349.59 294.10,358.48 294.10,376.27 278.70,385.16 263.30,376.27 263.30,358.48" fill="#7b4e8e" stroke="#e2e2e2" stroke-width="0.6"/>
<polygon points="232.50,376.27 247.90,385.16 247.90,402.94 232.50,411.83 217.10,402.94 217.10,385.16" fill="#7b4e8e" stroke="#e2e2e2" stroke-width="0.6"/>
<polygon points="247.90,402.94 263.30,411.83 263.30,429.61 247.90,438.50 232.50,429.61 232.50,411.83" fill="#7b4e8e" stroke="#e2e2e2" stroke-width="0.6"/>
<polygon points="278.70,402.94 294.10,411.83 294.10,429.61 278.70,438.50 263.30,429.61 263.30,411.83" fill="#7b4e8e" stroke="#e2e2e2" stroke-width="0.6"/>
<polygon points="294.10,429.61 309.50,438.50 309.50,456.29 294.10,465.18 278.70,456.29 278.70,438.50" fill="#7b4e8e" stroke="#e2e2e2" stroke-width="0.6"/>
<polygon points="324.90,429.61 340.30,438.50 340.30,456.29 324.90,465.18 309.50,456.29 309.50,438.50" fill="#7b4e8e" stroke="#e2e2e2" stroke-width="0.6"/>
<polygon points="309.50,456.29 324.90,465.18 324.90,482.96 309.50,491.85 294.10,482.96 294.10,465.18" fill="#7b4e8e" stroke="#e2e2e2" stroke-width="0.6"/>
<polygon points="340.30,456.29 355.70,465.18 355.70,482.96 340.30,491.85 324.90,482.96 324.90,465.18" fill="#7b4e8e" stroke="#e2e2e2" stroke-width="0.6"/>
<polygon points="294.10,482.96 309.50,491.85 309.50,509.64 294.10,518.53 278.70,509.64 278.70,491.85" fill="#7b4e8e" stroke="#e2e2e2" stroke-width="0.6"/>
<polygon points="324.90,482.96 340.30,491.85 340.30,509.64 324.90,518.53 309.50,509.64 309.50,491.85" fill="#7b4e8e" stroke="#e2e2e2" stroke-width="0.6"/>
<polygon points="309.50,509.64 324.90,518.53 324.90,536.31 309.50,545.20 294.10,536.31 294.10,518.53" fill="#fff" stroke="#c8c8c8" stroke-width="0.8"/>
<polygon points="309.50,510.14 324.47,518.78 324.47,536.06 309.50,544.70 294.53,536.06 294.53,518.78" fill="url(#hat)"/>
<polygon points="417.30,322.92 432.70,331.81 432.70,349.59 417.30,358.48 401.90,349.59 401.90,331.81" fill="#eff46e" stroke="#e2e2e2" stroke-width="0.6"/>
<polygon points="509.70,322.92 525.10,331.81 525.10,349.59 509.70,358.48 494.30,349.59 494.30,331.81" fill="#fff" stroke="#c8c8c8" stroke-width="0.8"/>
<polygon points="509.70,323.42 524.67,332.06 524.67,349.34 509.70,357.98 494.73,349.34 494.73,332.06" fill="url(#hat)"/>
<polygon points="401.90,349.59 417.30,358.48 417.30,376.27 401.90,385.16 386.50,376.27 386.50,358.48" fill="#eff46e" stroke="#e2e2e2" stroke-width="0.6"/>
<polygon points="432.70,349.59 448.10,358.48 448.10,376.27 432.70,385.16 417.30,376.27 417.30,358.48" fill="#fff" stroke="#c8c8c8" stroke-width="0.8"/>
<polygon points="432.70,350.09 447.67,358.73 447.67,376.02 432.70,384.66 417.73,376.02 417.73,358.73" fill="url(#hat)"/>
<polygon points="463.50,349.59 478.90,358.48 478.90,376.27 463.50,385.16 448.10,376.27 448.10,358.48" fill="#fff" stroke="#c8c8c8" stroke-width="0.8"/>
<polygon points="463.50,350.09 478.47,358.73 478.47,376.02 463.50,384.66 448.53,376.02 448.53,358.73" fill="url(#hat)"/>
<polygon points="494.30,349.59 509.70,358.48 509.70,376.27 494.30,385.16 478.90,376.27 478.90,358.48" fill="#fff" stroke="#c8c8c8" stroke-width="0.8"/>
<polygon points="494.30,350.09 509.27,358.73 509.27,376.02 494.30,384.66 479.33,376.02 479.33,358.73" fill="url(#hat)"/>
<polygon points="525.10,349.59 540.50,358.48 540.50,376.27 525.10,385.16 509.70,376.27 509.70,358.48" fill="#7b4e8e" stroke="#e2e2e2" stroke-width="0.6"/>
<polygon points="417.30,376.27 432.70,385.16 432.70,402.94 417.30,411.83 401.90,402.94 401.90,385.16" fill="#7ad4b0" stroke="#e2e2e2" stroke-width="0.6"/>
<polygon points="448.10,376.27 463.50,385.16 463.50,402.94 448.10,411.83 432.70,402.94 432.70,385.16" fill="#7b4e8e" stroke="#e2e2e2" stroke-width="0.6"/>
<polygon points="478.90,376.27 494.30,385.16 494.30,402.94 478.90,411.83 463.50,402.94 463.50,385.16" fill="#7b4e8e" stroke="#e2e2e2" stroke-width="0.6"/>
<polygon points="509.70,376.27 525.10,385.16 525.10,402.94 509.70,411.83 494.30,402.94 494.30,385.16" fill="#7b4e8e" stroke="#e2e2e2" stroke-width="0.6"/>
<polygon points="540.50,376.27 555.90,385.16 555.90,402.94 540.50,411.83 525.10,402.94 525.10,385.16" fill="#7b4e8e" stroke="#e2e2e2" stroke-width="0.6"/>
<polygon points="401.90,402.94 417.30,411.83 417.30,429.61 401.90,438.50 386.50,429.61 386.50,411.83" fill="#7b4e8e" stroke="#e2e2e2" stroke-width="0.6"/>
<polygon points="432.70,402.94 448.10,411.83 448.10,429.61 432.70,438.50 417.30,429.61 417.30,411.83" fill="#7b4e8e" stroke="#e2e2e2" stroke-width="0.6"/>
<polygon points="494.30,402.94 509.70,411.83 509.70,429.61 494.30,438.50 478.90,429.61 478.90,411.83" fill="#7b4e8e" stroke="#e2e2e2" stroke-width="0.6"/>
<polygon points="555.90,402.94 571.30,411.83 571.30,429.61 555.90,438.50 540.50,429.61 540.50,411.83" fill="#7b4e8e" stroke="#e2e2e2" stroke-width="0.6"/>
<polygon points="386.50,429.61 401.90,438.50 401.90,456.29 386.50,465.18 371.10,456.29 371.10,438.50" fill="#7b4e8e" stroke="#e2e2e2" stroke-width="0.6"/>
<polygon points="417.30,429.61 432.70,438.50 432.70,456.29 417.30,465.18 401.90,456.29 401.90,438.50" fill="#7b4e8e" stroke="#e2e2e2" stroke-width="0.6"/>
<polygon points="448.10,429.61 463.50,438.50 463.50,456.29 448.10,465.18 432.70,456.29 432.70,438.50" fill="#7b4e8e" stroke="#e2e2e2" stroke-width="0.6"/>
<polygon points="401.90,456.29 417.30,465.18 417.30,482.96 401.90,491.85 386.50,482.96 386.50,465.18" fill="#7b4e8e" stroke="#e2e2e2" stroke-width="0.6"/>
<polygon points="432.70,456.29 448.10,465.18 448.10,482.96 432.70,491.85 417.30,482.96 417.30,465.18" fill="#7b4e8e" stroke="#e2e2e2" stroke-width="0.6"/>
<polygon points="417.30,482.96 432.70,491.85 432.70,509.64 417.30,518.53 401.90,509.64 401.90,491.85" fill="#7b4e8e" stroke="#e2e2e2" stroke-width="0.6"/>
<polygon points="602.10,429.61 617.50,438.50 617.50,456.29 602.10,465.18 586.70,456.29 586.70,438.50" fill="#7b4e8e" stroke="#e2e2e2" stroke-width="0.6"/>
<polygon points="586.70,456.29 602.10,465.18 602.10,482.96 586.70,491.85 571.30,482.96 571.30,465.18" fill="#fff" stroke="#c8c8c8" stroke-width="0.8"/>
<polygon points="586.70,456.79 601.67,465.43 601.67,482.71 586.70,491.35 571.73,482.71 571.73,465.43" fill="url(#hat)"/>
<polygon points="617.50,456.29 632.90,465.18 632.90,482.96 617.50,491.85 602.10,482.96 602.10,465.18" fill="#7b4e8e" stroke="#e2e2e2" stroke-width="0.6"/>
<polygon points="602.10,482.96 617.50,491.85 617.50,509.64 602.10,518.53 586.70,509.64 586.70,491.85" fill="#7b4e8e" stroke="#e2e2e2" stroke-width="0.6"/>
<polygon points="648.30,402.94 663.70,411.83 663.70,429.61 648.30,438.50 632.90,429.61 632.90,411.83" fill="#fff" stroke="#c8c8c8" stroke-width="0.8"/>
<polygon points="648.30,403.44 663.27,412.08 663.27,429.36 648.30,438.00 633.33,429.36 633.33,412.08" fill="url(#hat)"/>
<polygon points="301.00,317.62 316.40,326.51 316.40,344.29 301.00,353.18 285.60,344.29 285.60,326.51" fill="#fff" stroke="#c8c8c8" stroke-width="0.8"/>
<polygon points="301.00,318.12 315.97,326.76 315.97,344.04 301.00,352.68 286.03,344.04 286.03,326.76" fill="url(#hat)"/>
<polygon points="471.00,461.32 486.40,470.21 486.40,487.99 471.00,496.88 455.60,487.99 455.60,470.21" fill="#7b4e8e" stroke="#e2e2e2" stroke-width="0.6"/>
<polygon points="639.70,488.62 655.10,497.51 655.10,515.29 639.70,524.18 624.30,515.29 624.30,497.51" fill="#7b4e8e" stroke="#e2e2e2" stroke-width="0.6"/>
</g>
<g fill="none" stroke="#5c5c5c" stroke-width="0.85" stroke-linecap="round" stroke-linejoin="round">
<path d="M197.60,377.38 L197.57,377.27 L197.57,377.26 L197.49,376.87 L197.49,376.87 L197.45,376.47 L197.45,376.47 L197.45,376.27 L197.45,358.48 L197.45,358.28 L197.45,358.28 L197.49,357.88 L197.49,357.88 L197.57,357.48 L197.57,357.48 L197.68,357.09 L197.68,357.09 L197.83,356.72 L197.84,356.72 L198.02,356.36 L198.02,356.36 L198.24,356.02 L198.24,356.02 L198.49,355.70 L198.49,355.70 L198.77,355.41 L198.77,355.41 L199.07,355.14 L199.07,355.14 L199.40,354.91 L199.40,354.91 L199.57,354.80 L212.85,347.14 L212.85,331.81 L212.85,331.61 L212.85,331.60 L212.89,331.21 L212.89,331.20 L212.97,330.81 L212.97,330.80 L213.08,330.42 L213.08,330.42 L213.23,330.05 L213.24,330.04 L213.42,329.69 L213.42,329.68 L213.64,329.35 L213.64,329.34 L213.89,329.03 L213.89,329.02 L214.17,328.73 L214.17,328.73 L214.47,328.47 L214.47,328.47 L214.80,328.23 M214.80,328.23 L214.80,328.23 L214.97,328.13 L230.37,319.24 L230.55,319.14 L230.55,319.14 L230.92,318.97 L230.92,318.97 L231.30,318.84 L231.30,318.84 L231.69,318.74 L231.70,318.74 L232.09,318.69 L232.10,318.69 L232.50,318.67 L232.50,318.67 L232.90,318.69 L232.91,318.69 L233.30,318.74 L233.31,318.74 L233.70,318.84 L233.70,318.84 L234.08,318.97 L234.08,318.97 L234.45,319.14 L234.45,319.14 L234.63,319.24 L247.90,326.90 L261.17,319.24 L261.35,319.14 L261.35,319.14 L261.72,318.97 L261.72,318.97 L262.10,318.84 L262.10,318.84 L262.49,318.74 L262.50,318.74 L262.89,318.69 L262.90,318.69 L263.30,318.67 L263.30,318.67 L263.70,318.69 L263.71,318.69 L263.81,318.70"/>
<path d="M281.36,326.21 L281.39,325.91 L281.39,325.90 L281.47,325.51 L281.47,325.50 L281.58,325.12 L281.58,325.12 L281.73,324.75 L281.74,324.74 L281.92,324.39 L281.92,324.38 L282.14,324.05 L282.14,324.04 L282.39,323.73 L282.39,323.72 L282.67,323.43 L282.67,323.43 L282.97,323.17 L282.97,323.17 L283.30,322.93 L283.30,322.93 L283.47,322.83 L298.87,313.94 L299.05,313.84 M299.05,313.84 L299.05,313.84 L299.42,313.67 L299.42,313.67 L299.80,313.54 L299.80,313.54 L300.19,313.44 L300.20,313.44 L300.59,313.39 L300.60,313.39 L301.00,313.37 L301.00,313.37 L301.40,313.39 L301.41,313.39 L301.80,313.44 L301.81,313.44 L302.20,313.54 L302.20,313.54 L302.58,313.67 L302.58,313.67 L302.95,313.84 L302.95,313.84 L303.13,313.94 L318.53,322.83 L318.70,322.93 L318.70,322.93 L319.03,323.17 L319.03,323.17 L319.33,323.43 L319.33,323.43 L319.61,323.72 L319.61,323.73 L319.86,324.04 L319.86,324.05 L320.08,324.38 L320.08,324.39 L320.26,324.74 L320.27,324.75 L320.42,325.12 L320.42,325.12 L320.53,325.50 L320.53,325.51 L320.61,325.90 L320.61,325.91 L320.65,326.30 L320.65,326.31 L320.65,326.51 L320.65,344.29 L320.65,344.49 L320.65,344.50 L320.61,344.89 L320.61,344.90 L320.53,345.29 L320.53,345.30 L320.42,345.68 L320.42,345.68 L320.27,346.05 L320.26,346.06 L320.08,346.41 L320.08,346.42 L320.02,346.52"/>
<path d="M262.59,434.93 L250.03,442.19 L249.85,442.28 L249.85,442.28 L249.48,442.45 L249.48,442.45 L249.10,442.58 L249.10,442.58 L248.71,442.68 L248.70,442.68 L248.31,442.74 L248.30,442.74 L247.90,442.75 L247.90,442.75 L247.50,442.74 L247.49,442.74 L247.10,442.68 L247.09,442.68 L246.70,442.58 L246.70,442.58 L246.32,442.45 L246.32,442.45 L245.95,442.28 L245.95,442.28 L245.77,442.19 L230.37,433.29 L230.20,433.19 L230.20,433.19 L229.87,432.96 L229.87,432.95 L229.57,432.69 L229.57,432.69 L229.29,432.40 L229.29,432.39 L229.04,432.08 L229.04,432.08 L228.82,431.74 L228.82,431.74 L228.64,431.38 L228.63,431.38 L228.48,431.01 L228.48,431.00 L228.37,430.62 L228.37,430.61 L228.29,430.22 L228.29,430.22 L228.25,429.82 L228.25,429.81 L228.25,429.61 L228.25,414.28 L214.97,406.62 L214.80,406.52 L214.80,406.51 L214.47,406.28 L214.47,406.28 L214.17,406.02 L214.17,406.01 L213.89,405.72 L213.89,405.72 L213.64,405.41 L213.64,405.40 L213.42,405.07 L213.42,405.06 L213.24,404.71 L213.23,404.70 L213.08,404.33 L213.08,404.33 L212.97,403.94 L212.97,403.94 L212.89,403.55 L212.89,403.54 L212.85,403.14 L212.85,403.14 L212.85,402.94 L212.85,387.90"/>
<path d="M279.15,398.72 L279.50,398.77 L279.51,398.77 L279.90,398.86 L279.90,398.86 L280.28,398.99 L280.28,398.99 L280.65,399.16 L280.65,399.16 L280.83,399.26 L296.23,408.15 L296.40,408.25 L296.40,408.26 L296.73,408.49 L296.73,408.49 L297.03,408.75 L297.03,408.76 L297.31,409.05 L297.31,409.05 L297.56,409.36 L297.56,409.37 L297.78,409.70 L297.78,409.71 L297.96,410.06 L297.97,410.07 L298.12,410.44 L298.12,410.44 L298.23,410.83 L298.23,410.83 L298.31,411.22 L298.31,411.23 L298.35,411.63 L298.35,411.63 L298.35,411.83 L298.35,427.30"/>
<path d="M344.51,437.90 L344.51,437.90 L344.55,438.30 L344.55,438.30 L344.55,438.50 L344.55,453.83 L357.83,461.50 L358.00,461.60 L358.00,461.60 L358.33,461.84 L358.33,461.84 L358.63,462.10 L358.63,462.10 L358.91,462.39 L358.91,462.40 L359.16,462.71 L359.16,462.72 L359.38,463.05 L359.38,463.06 L359.56,463.41 L359.57,463.42 L359.72,463.79 L359.72,463.79 L359.83,464.17 L359.83,464.18 L359.91,464.57 L359.91,464.58 L359.95,464.97 L359.95,464.98 L359.95,465.18 L359.95,482.96 L359.95,483.16 L359.95,483.17 L359.91,483.56 L359.91,483.57 L359.83,483.96 L359.83,483.97 L359.72,484.35 L359.72,484.35 L359.57,484.72 L359.56,484.73 L359.38,485.08 L359.38,485.09 L359.16,485.42 L359.16,485.43 L358.91,485.74 L358.91,485.75 L358.63,486.04 L358.63,486.04 L358.33,486.30 L358.33,486.30 L358.00,486.54 L358.00,486.54 L357.83,486.64 L344.55,494.31 L344.55,509.64 L344.55,509.84 L344.55,509.84 L344.51,510.24 L344.51,510.24 L344.43,510.63 L344.43,510.64 L344.32,511.02 L344.32,511.03 L344.17,511.40 L344.16,511.40 L343.98,511.76 L343.98,511.76 L343.76,512.10 L343.76,512.10 L343.51,512.42 L343.51,512.42 L343.23,512.71 L343.23,512.71 L342.93,512.97 L342.93,512.98 L342.60,513.21 L342.60,513.21 L342.43,513.32 L329.15,520.98 L329.15,536.31 L329.15,536.51 L329.15,536.51 L329.11,536.91 L329.11,536.92 L329.03,537.31 L329.03,537.31 L328.92,537.70 L328.92,537.70 L328.77,538.07 L328.76,538.08 L328.58,538.43 L328.58,538.44 L328.36,538.77 L328.36,538.78 L328.11,539.09 L328.11,539.09 L327.83,539.38 L327.83,539.39 L327.53,539.65 L327.53,539.65 L327.20,539.88 L327.20,539.89 L327.03,539.99 L311.63,548.88 L311.45,548.98 L311.45,548.98 L311.08,549.15 L311.08,549.15 L310.70,549.28 L310.70,549.28 L310.31,549.37 L310.30,549.37 L309.91,549.43 L309.90,549.43 L309.50,549.45 L309.50,549.45 L309.10,549.43 L309.09,549.43 L308.70,549.37 L308.69,549.37 L308.30,549.28 L308.30,549.28 L307.92,549.15 L307.92,549.15 L307.55,548.98 L307.55,548.98 L307.37,548.88 L291.97,539.99 L291.80,539.89 L291.80,539.88 L291.47,539.65 L291.47,539.65 L291.17,539.39 L291.17,539.38 L290.89,539.09 L290.89,539.09 L290.64,538.78 L290.64,538.77 L290.42,538.44 L290.42,538.43 L290.24,538.08 L290.23,538.07 L290.08,537.70 L290.08,537.70 L289.97,537.31 L289.97,537.31 L289.89,536.92 L289.89,536.91 L289.85,536.51 L289.85,536.51 L289.85,536.31 L289.85,520.98 L276.57,513.32 L276.40,513.21 L276.40,513.21 L276.07,512.98 L276.07,512.97 L275.77,512.71 L275.77,512.71 L275.49,512.42 L275.49,512.42 L275.24,512.10 L275.24,512.10 L275.02,511.76 L275.02,511.76 L274.84,511.40 L274.83,511.40 L274.68,511.03 L274.68,511.02 L274.57,510.64 L274.57,510.63 L274.49,510.24 L274.49,510.24 L274.45,509.84 L274.45,509.84 L274.45,509.64 L274.45,491.85 L274.45,491.65 L274.45,491.65 L274.49,491.25 L274.49,491.25 L274.57,490.85 L274.57,490.85 L274.68,490.46 L274.68,490.46 L274.83,490.09 L274.84,490.09 L275.02,489.73 L275.02,489.73 L275.24,489.39 L275.24,489.39 L275.49,489.07 L275.49,489.07 L275.77,488.78 L275.77,488.78 L276.07,488.51 L276.07,488.51 L276.40,488.28 L276.40,488.28 L276.57,488.17 L289.85,480.51 L289.85,467.63 L276.57,459.97 L276.40,459.86 L276.40,459.86 L276.07,459.63 L276.07,459.63 L275.77,459.36 L275.77,459.36 L275.49,459.07 L275.49,459.07 L275.24,458.75 L275.24,458.75 L275.02,458.41 L275.02,458.41 L274.84,458.05 L274.83,458.05 L274.68,457.68 L274.68,457.68 L274.57,457.29 L274.57,457.29 L274.49,456.89 L274.49,456.89 L274.45,456.49 L274.45,456.49 L274.45,456.29 L274.45,440.40"/>
<path d="M397.65,387.70 L397.65,387.61 L384.37,379.95 L384.20,379.84 L384.20,379.84 L383.87,379.61 L383.87,379.60 L383.57,379.34 L383.57,379.34 L383.29,379.05 L383.29,379.05 L383.04,378.73 L383.04,378.73 L382.82,378.39 L382.82,378.39 L382.64,378.03 L382.63,378.03 L382.48,377.66 L382.48,377.65 L382.37,377.27 L382.37,377.26 L382.29,376.87 L382.29,376.87 L382.25,376.47 L382.25,376.47 L382.25,376.27 L382.25,358.48 L382.25,358.28 L382.25,358.28 L382.29,357.88 L382.29,357.88 L382.37,357.48 L382.37,357.48 L382.48,357.09 L382.48,357.09 L382.63,356.72 L382.64,356.72 L382.82,356.36 L382.82,356.36 L383.04,356.02 L383.04,356.02 L383.29,355.70 L383.29,355.70 L383.57,355.41 L383.57,355.41 L383.87,355.14 L383.87,355.14 L384.20,354.91 L384.20,354.91 L384.37,354.80 L397.65,347.14 L397.65,331.81 L397.65,331.61 L397.65,331.60 L397.69,331.21 L397.69,331.20 L397.77,330.81 L397.77,330.80 L397.88,330.42 L397.88,330.42 L398.03,330.05 L398.04,330.04 L398.22,329.69 L398.22,329.68 L398.44,329.35 L398.44,329.34 L398.69,329.03 L398.69,329.02 L398.97,328.73 L398.97,328.73 L399.27,328.47 L399.27,328.47 L399.60,328.23 M399.60,328.23 L399.60,328.23 L399.77,328.13 L415.17,319.24 L415.35,319.14 L415.35,319.14 L415.72,318.97 L415.72,318.97 L416.10,318.84 L416.10,318.84 L416.49,318.74 L416.50,318.74 L416.89,318.69 L416.90,318.69 L417.30,318.67 L417.30,318.67 L417.70,318.69 L417.71,318.69 L418.10,318.74 L418.11,318.74 L418.50,318.84 L418.50,318.84 L418.88,318.97 L418.88,318.97 L419.25,319.14 L419.25,319.14 L419.43,319.24 L434.83,328.13 L435.00,328.23 L435.00,328.23 L435.33,328.47 L435.33,328.47 L435.63,328.73 L435.63,328.73 L435.91,329.02 L435.91,329.03 L436.16,329.34 L436.16,329.35 L436.38,329.68 L436.38,329.69 L436.56,330.04 L436.57,330.05 L436.72,330.42 L436.72,330.42 L436.83,330.80 L436.83,330.81 L436.91,331.20 L436.91,331.21 L436.95,331.60 L436.95,331.61 L436.95,331.81 L436.95,347.14 L448.37,353.73"/>
<path d="M464.67,345.51 L464.70,345.51 L464.70,345.51 L465.08,345.64 L465.08,345.65 L465.45,345.81 L465.45,345.81 L465.63,345.91 L478.90,353.58 L490.05,347.14 L490.05,331.81 L490.05,331.61 L490.05,331.60 L490.09,331.21 L490.09,331.20 L490.17,330.81 L490.17,330.80 L490.28,330.42 L490.28,330.42 L490.43,330.05 L490.44,330.04 L490.62,329.69 L490.62,329.68 L490.84,329.35 L490.84,329.34 L491.09,329.03 L491.09,329.02 L491.37,328.73 L491.37,328.73 L491.67,328.47 L491.67,328.47 L492.00,328.23 L492.00,328.23 L492.17,328.13 L507.57,319.24 L507.75,319.14 L507.75,319.14 L508.12,318.97 L508.12,318.97 L508.50,318.84 L508.50,318.84 L508.89,318.74 L508.90,318.74 L509.29,318.69 L509.30,318.69 L509.70,318.67 L509.70,318.67 L510.10,318.69 L510.11,318.69 L510.50,318.74 L510.51,318.74 L510.90,318.84 L510.90,318.84 L511.28,318.97 L511.28,318.97 L511.65,319.14 L511.65,319.14 L511.83,319.24 L527.23,328.13 L527.40,328.23 L527.40,328.23 L527.73,328.47 L527.73,328.47 L528.03,328.73 L528.03,328.73 L528.31,329.02 L528.31,329.03 L528.56,329.34 L528.56,329.35 L528.78,329.68 L528.78,329.69 L528.96,330.04 L528.97,330.05 L529.12,330.42 L529.12,330.42 L529.23,330.80 L529.23,330.81 L529.31,331.20 L529.31,331.21 L529.35,331.60 L529.35,331.61 L529.35,331.81 L529.35,347.14 L542.63,354.80 L542.80,354.91 L542.80,354.91 L543.13,355.14 L543.13,355.14 L543.43,355.41 L543.43,355.41 L543.71,355.70 L543.71,355.70 L543.96,356.02 L543.96,356.02 L544.18,356.36 L544.18,356.36 L544.36,356.72 L544.37,356.72 L544.52,357.09 L544.52,357.09 L544.63,357.48 L544.63,357.48 L544.71,357.88 L544.71,357.88 L544.75,358.28 L544.75,358.28 L544.75,358.48 L544.75,373.81 L558.03,381.48 L558.20,381.58 L558.20,381.58 L558.53,381.81 L558.53,381.82 L558.83,382.08 L558.83,382.08 L559.11,382.37 L559.11,382.38 L559.36,382.69 L559.36,382.69 L559.58,383.03 L559.58,383.03 L559.76,383.39 L559.77,383.39 L559.92,383.76 L559.92,383.77 L560.03,384.15 L560.03,384.16 L560.11,384.55 L560.11,384.55 L560.15,384.95 L560.15,384.96 L560.15,385.16 L560.15,400.49 L573.43,408.15 L573.60,408.25 L573.60,408.26 L573.93,408.49 L573.93,408.49 L574.23,408.75 L574.23,408.76 L574.51,409.05 L574.51,409.05 L574.76,409.36 L574.76,409.37 L574.98,409.70 L574.98,409.71 L575.16,410.06 L575.17,410.07 L575.32,410.44 L575.32,410.44 L575.43,410.83 L575.43,410.83 L575.51,411.22 L575.51,411.23 L575.55,411.63 L575.55,411.63 L575.55,411.83 L575.55,429.61 L575.55,429.81 L575.55,429.82 L575.51,430.22 L575.51,430.22 L575.43,430.61 L575.43,430.62 L575.32,431.00 L575.32,431.01 L575.17,431.38 L575.16,431.38 L574.98,431.74 L574.98,431.74 L574.76,432.08 L574.76,432.08 L574.51,432.39 L574.51,432.40 L574.23,432.69 L574.23,432.69 L573.93,432.95 L573.93,432.96 L573.60,433.19 L573.60,433.19 L573.43,433.29 L558.03,442.19 L557.85,442.28 L557.85,442.28 L557.48,442.45 L557.48,442.45 L557.10,442.58 L557.10,442.58 L556.71,442.68 L556.70,442.68 L556.31,442.74 L556.30,442.74 L555.90,442.75 L555.90,442.75 L555.50,442.74 L555.49,442.74 L555.10,442.68 L555.09,442.68 L554.70,442.58 L554.70,442.58 L554.32,442.45 L554.32,442.45 L553.95,442.28 L553.95,442.28 L553.77,442.19 L538.37,433.29 L538.20,433.19 L538.20,433.19 L537.87,432.96 L537.87,432.95 L537.57,432.69 L537.57,432.69 L537.29,432.40 L537.29,432.39 L537.04,432.08 L537.04,432.08 L536.82,431.74 L536.82,431.74 L536.64,431.38 L536.63,431.38 L536.48,431.01 L536.48,431.00 L536.37,430.62 L536.37,430.61 L536.29,430.22 L536.29,430.22 L536.25,429.82 L536.25,429.81 L536.25,429.61 L536.25,414.28 L525.10,407.85 L513.95,414.28 L513.95,429.61 L513.95,429.81 L513.95,429.82 L513.91,430.22 L513.91,430.22 L513.83,430.61 L513.83,430.62 L513.72,431.00 L513.72,431.01 L513.57,431.38 L513.56,431.38 L513.38,431.74 L513.38,431.74 L513.16,432.08 L513.16,432.08 L512.91,432.39 L512.91,432.40 L512.63,432.69 L512.63,432.69 L512.33,432.95 L512.33,432.96 L512.00,433.19 L512.00,433.19 L511.83,433.29 L496.43,442.19 L496.25,442.28 L496.25,442.28 L495.88,442.45 L495.88,442.45 L495.50,442.58 L495.50,442.58 L495.11,442.68 L495.10,442.68 L494.71,442.74 L494.70,442.74 L494.30,442.75 L494.30,442.75 L493.90,442.74 L493.89,442.74 L493.50,442.68 L493.49,442.68 L493.10,442.58 L493.10,442.58 L492.72,442.45 L492.72,442.45 L492.35,442.28 L492.35,442.28 L492.17,442.19 L476.77,433.29 L476.60,433.19 L476.60,433.19 L476.27,432.96 L476.27,432.95 L475.97,432.69 L475.97,432.69 L475.69,432.40 L475.69,432.39 L475.44,432.08 L475.44,432.08 L475.22,431.74 L475.22,431.74 L475.04,431.38 L475.03,431.38 L474.88,431.01 L474.88,431.00 L474.77,430.62 L474.77,430.61 L474.69,430.22 L474.69,430.22 L474.65,429.82 L474.65,429.81 L474.65,429.61 L474.65,414.28 L463.50,407.85 L452.35,414.28 L452.35,426.80"/>
<path d="M450.19,486.66 L436.95,494.31 L436.95,509.64 L436.95,509.84 L436.95,509.84 L436.91,510.24 L436.91,510.24 L436.83,510.63 L436.83,510.64 L436.72,511.02 L436.72,511.03 L436.57,511.40 L436.56,511.40 L436.38,511.76 L436.38,511.76 L436.16,512.10 L436.16,512.10 L435.91,512.42 L435.91,512.42 L435.63,512.71 L435.63,512.71 L435.33,512.97 L435.33,512.98 L435.00,513.21 L435.00,513.21 L434.83,513.32 L419.43,522.21 L419.25,522.30 L419.25,522.31 L418.88,522.47 L418.88,522.47 L418.50,522.60 L418.50,522.61 L418.11,522.70 L418.10,522.70 L417.71,522.76 L417.70,522.76 L417.30,522.78 L417.30,522.78 L416.90,522.76 L416.89,522.76 L416.50,522.70 L416.49,522.70 L416.10,522.61 L416.10,522.60 L415.72,522.47 L415.72,522.47 L415.35,522.31 L415.35,522.30 L415.17,522.21 L399.77,513.32 L399.60,513.21 L399.60,513.21 L399.27,512.98 L399.27,512.97 L398.97,512.71 L398.97,512.71 L398.69,512.42 L398.69,512.42 L398.44,512.10 L398.44,512.10 L398.22,511.76 L398.22,511.76 L398.04,511.40 L398.03,511.40 L397.88,511.03 L397.88,511.02 L397.77,510.64 L397.77,510.63 L397.69,510.24 L397.69,510.24 L397.65,509.84 L397.65,509.84 L397.65,509.64 L397.65,494.31 L384.37,486.64 L384.20,486.54 L384.20,486.54 L383.87,486.30 L383.87,486.30 L383.57,486.04 L383.57,486.04 L383.29,485.75 L383.29,485.74 L383.04,485.43 L383.04,485.42 L382.82,485.09 L382.82,485.08 L382.64,484.73 L382.63,484.72 L382.48,484.35 L382.48,484.35 L382.37,483.97 L382.37,483.96 L382.29,483.57 L382.29,483.56 L382.25,483.17 L382.25,483.16 L382.25,482.96 L382.25,467.63 L368.97,459.97 L368.80,459.86 L368.80,459.86 L368.47,459.63 L368.47,459.63 L368.17,459.36 L368.17,459.36 L367.89,459.07 L367.89,459.07 L367.64,458.75 L367.64,458.75 L367.42,458.41 L367.42,458.41 L367.24,458.05 L367.23,458.05 L367.08,457.68 L367.08,457.68 L366.97,457.29 L366.97,457.29 L366.89,456.89 L366.89,456.89 L366.85,456.49 L366.85,456.49 L366.85,456.29 L366.85,438.50 L366.85,438.30 L366.85,438.30 L366.89,437.90 L366.89,437.90 L366.97,437.51 L366.97,437.50 L367.08,437.12 L367.08,437.11 L367.23,436.74 L367.24,436.74 L367.42,436.38 L367.42,436.38 L367.64,436.04 L367.64,436.04 L367.89,435.72 L367.89,435.72 L368.17,435.43 L368.17,435.43 L368.47,435.17 L368.47,435.16 L368.80,434.93 L368.80,434.93 L368.97,434.82 L382.25,427.16 L382.25,411.83 L382.25,411.63 L382.25,411.63 L382.29,411.23 L382.29,411.22 L382.37,410.83 L382.37,410.83 L382.48,410.44 L382.48,410.44 L382.63,410.07 L382.64,410.06 L382.82,409.71 L382.82,409.70 L383.04,409.37 L383.04,409.36 L383.29,409.05 L383.29,409.05 L383.57,408.76 L383.57,408.75 L383.87,408.49 L383.87,408.49 L384.20,408.26 M384.20,408.26 L384.20,408.25 L384.37,408.15 L397.05,400.83"/>
<path d="M490.65,486.90 L490.65,487.99 L490.65,488.19 L490.65,488.20 L490.61,488.59 L490.61,488.60 L490.53,488.99 L490.53,489.00 L490.42,489.38 L490.42,489.38 L490.27,489.75 L490.26,489.76 L490.08,490.11 L490.08,490.12 L489.86,490.45 L489.86,490.46 L489.61,490.77 L489.61,490.78 L489.33,491.07 L489.33,491.07 L489.03,491.33 L489.03,491.33 L488.70,491.57 L488.70,491.57 L488.53,491.67 L473.13,500.56 L472.95,500.66 L472.95,500.66 L472.58,500.83 L472.58,500.83 L472.20,500.96 L472.20,500.96 L471.81,501.06 L471.80,501.06 L471.41,501.11 L471.40,501.11 L471.00,501.13 L471.00,501.13 L470.60,501.11 L470.59,501.11 L470.20,501.06 L470.19,501.06 L469.80,500.96 L469.80,500.96 L469.42,500.83 L469.42,500.83 L469.05,500.66 L469.05,500.66 L468.87,500.56 L453.47,491.67 L453.30,491.57 L453.30,491.57 L452.97,491.33 L452.97,491.33 L452.67,491.07 L452.67,491.07 L452.39,490.78 L452.39,490.77 L452.14,490.46 L452.14,490.45 L451.92,490.12 L451.92,490.11 L451.74,489.76 L451.73,489.75 L451.58,489.38 L451.58,489.38 L451.47,489.00 L451.47,488.99 L451.39,488.60 L451.39,488.59 L451.35,488.20 L451.35,488.19 L451.35,487.99 L451.35,487.90"/>
<path d="M619.28,513.52 L604.23,522.21 L604.05,522.30 L604.05,522.31 L603.68,522.47 L603.68,522.47 L603.30,522.60 L603.30,522.61 L602.91,522.70 L602.90,522.70 L602.51,522.76 L602.50,522.76 L602.10,522.78 L602.10,522.78 L601.70,522.76 L601.69,522.76 L601.30,522.70 L601.29,522.70 L600.90,522.61 L600.90,522.60 L600.52,522.47 L600.52,522.47 L600.15,522.31 L600.15,522.30 L599.97,522.21 L584.57,513.32 L584.40,513.21 L584.40,513.21 L584.07,512.98 L584.07,512.97 L583.77,512.71 L583.77,512.71 L583.49,512.42 L583.49,512.42 L583.24,512.10 L583.24,512.10 L583.02,511.76 L583.02,511.76 L582.84,511.40 L582.83,511.40 L582.68,511.03 L582.68,511.02 L582.57,510.64 L582.57,510.63 L582.49,510.24 L582.49,510.24 L582.45,509.84 L582.45,509.84 L582.45,509.64 L582.45,494.31 L569.17,486.64 L569.00,486.54 L569.00,486.54 L568.67,486.30 L568.67,486.30 L568.37,486.04 L568.37,486.04 L568.09,485.75 L568.09,485.74 L567.84,485.43 L567.84,485.42 L567.62,485.09 L567.62,485.08 L567.44,484.73 L567.43,484.72 L567.28,484.35 L567.28,484.35 L567.17,483.97 L567.17,483.96 L567.09,483.57 L567.09,483.56 L567.05,483.17 L567.05,483.16 L567.05,482.96 L567.05,465.18 L567.05,464.98 L567.05,464.97 L567.09,464.58 L567.09,464.57 L567.17,464.18 L567.17,464.17 L567.28,463.79 L567.28,463.79 L567.43,463.42 L567.44,463.41 L567.62,463.06 L567.62,463.05 L567.84,462.72 L567.84,462.71 L568.09,462.40 L568.09,462.39 L568.37,462.10 L568.37,462.10 L568.67,461.84 L568.67,461.84 L569.00,461.60 L569.00,461.60 L569.17,461.50 L582.45,453.83 L582.45,438.50 L582.45,438.30 L582.45,438.30 L582.49,437.90 L582.49,437.90 L582.57,437.51 L582.57,437.50 L582.68,437.12 L582.68,437.11 L582.83,436.74 L582.84,436.74 L583.02,436.38 L583.02,436.38 L583.24,436.04 L583.24,436.04 L583.41,435.82"/>
<path d="M659.35,514.90 L659.35,515.29 L659.35,515.49 L659.35,515.50 L659.31,515.89 L659.31,515.90 L659.23,516.29 L659.23,516.30 L659.12,516.68 L659.12,516.68 L658.97,517.05 L658.96,517.06 L658.78,517.41 L658.78,517.42 L658.56,517.75 L658.56,517.76 L658.31,518.07 L658.31,518.08 L658.03,518.37 L658.03,518.37 L657.73,518.63 L657.73,518.63 L657.40,518.87 L657.40,518.87 L657.23,518.97 L641.83,527.86 L641.65,527.96 L641.65,527.96 L641.28,528.13 L641.28,528.13 L640.90,528.26 L640.90,528.26 L640.51,528.36 L640.50,528.36 L640.11,528.41 L640.10,528.41 L639.70,528.43 L639.70,528.43 L639.30,528.41 L639.29,528.41 L638.90,528.36 L638.89,528.36 L638.50,528.26 L638.50,528.26 L638.12,528.13 L638.12,528.13 L637.75,527.96 L637.75,527.96 L637.57,527.86 L622.17,518.97 L622.00,518.87 L622.00,518.87 L621.67,518.63 L621.67,518.63 L621.37,518.37 L621.37,518.37 L621.09,518.08 L621.09,518.07 L620.84,517.76 L620.84,517.75 L620.62,517.42 L620.62,517.41 L620.44,517.06 L620.43,517.05 L620.28,516.68 L620.28,516.68 L620.17,516.30 L620.17,516.29 L620.09,515.90 L620.09,515.89 L620.05,515.50 L620.05,515.49 L620.05,515.29 L620.05,513.90"/>
<path d="M667.92,430.13 L667.91,430.22 L667.91,430.22 L667.83,430.61 L667.83,430.62 L667.72,431.00 L667.72,431.01 L667.57,431.38 L667.56,431.38 L667.38,431.74 L667.38,431.74 L667.16,432.08 L667.16,432.08 L666.91,432.39 L666.91,432.40 L666.63,432.69 L666.63,432.69 L666.33,432.95 L666.33,432.96 L666.00,433.19 L666.00,433.19 L665.83,433.29 L650.43,442.19 L650.25,442.28 L650.25,442.28 L649.88,442.45 L649.88,442.45 L649.50,442.58 L649.50,442.58 L649.11,442.68 L649.10,442.68 L648.71,442.74 L648.70,442.74 L648.30,442.75 L648.30,442.75 L647.90,442.74 L647.89,442.74 L647.50,442.68 L647.49,442.68 L647.10,442.58 L647.10,442.58 L646.72,442.45 L646.72,442.45 L646.35,442.28 L646.35,442.28 L646.17,442.19 L630.77,433.29 L630.60,433.19 L630.60,433.19 L630.27,432.96 L630.27,432.95 L629.97,432.69 L629.97,432.69 L629.69,432.40 L629.69,432.39 L629.44,432.08 L629.44,432.08 L629.22,431.74 L629.22,431.74 L629.04,431.38 L629.03,431.38 L628.88,431.01 L628.88,431.00 L628.77,430.62 L628.77,430.61 L628.69,430.22 L628.69,430.22 L628.68,430.06"/>
</g>
<text x="219.77" y="340.85" font-size="10.49" textLength="25.47" lengthAdjust="spacingAndGlyphs" fill="#000" stroke="#000" stroke-width="0.15">NWN</text>
<text x="252.39" y="340.85" font-size="10.49" textLength="21.81" lengthAdjust="spacingAndGlyphs" fill="#000" stroke="#000" stroke-width="0.15">NEN</text>
<text x="204.69" y="367.52" font-size="10.49" textLength="24.81" lengthAdjust="spacingAndGlyphs" fill="#000" stroke="#000" stroke-width="0.15">WNA</text>
<text x="236.98" y="367.52" font-size="10.49" textLength="21.84" lengthAdjust="spacingAndGlyphs" fill="#000" stroke="#000" stroke-width="0.15">CNA</text>
<text x="268.12" y="367.52" font-size="10.49" textLength="21.16" lengthAdjust="spacingAndGlyphs" fill="#000" stroke="#000" stroke-width="0.15">ENA</text>
<text x="221.58" y="394.20" font-size="10.49" textLength="21.84" lengthAdjust="spacingAndGlyphs" fill="#000" stroke="#000" stroke-width="0.15">NCA</text>
<text x="237.56" y="420.87" font-size="10.49" textLength="20.68" lengthAdjust="spacingAndGlyphs" fill="#000" stroke="#000" stroke-width="0.15">SCA</text>
<text x="268.05" y="420.87" font-size="10.49" textLength="21.29" lengthAdjust="spacingAndGlyphs" fill="#000" stroke="#000" stroke-width="0.15">CAR</text>
<text x="281.95" y="447.55" font-size="10.49" textLength="24.31" lengthAdjust="spacingAndGlyphs" fill="#000" stroke="#000" stroke-width="0.15">NWS</text>
<text x="314.31" y="447.55" font-size="10.49" textLength="21.19" lengthAdjust="spacingAndGlyphs" fill="#000" stroke="#000" stroke-width="0.15">NSA</text>
<text x="298.32" y="474.22" font-size="10.49" textLength="22.36" lengthAdjust="spacingAndGlyphs" fill="#000" stroke="#000" stroke-width="0.15">SAM</text>
<text x="329.97" y="474.22" font-size="10.49" textLength="20.65" lengthAdjust="spacingAndGlyphs" fill="#000" stroke="#000" stroke-width="0.15">NES</text>
<text x="282.53" y="500.89" font-size="10.49" textLength="23.15" lengthAdjust="spacingAndGlyphs" fill="#000" stroke="#000" stroke-width="0.15">SWS</text>
<text x="315.16" y="500.89" font-size="10.49" textLength="19.49" lengthAdjust="spacingAndGlyphs" fill="#000" stroke="#000" stroke-width="0.15">SES</text>
<text x="299.49" y="527.57" font-size="10.49" textLength="20.02" lengthAdjust="spacingAndGlyphs" fill="#000" stroke="#000" stroke-width="0.15">SSA</text>
<text x="406.48" y="340.85" font-size="10.49" textLength="21.65" lengthAdjust="spacingAndGlyphs" fill="#000" stroke="#000" stroke-width="0.15">NEU</text>
<text x="499.07" y="340.85" font-size="10.49" textLength="21.26" lengthAdjust="spacingAndGlyphs" fill="#000" stroke="#000" stroke-width="0.15">RAR</text>
<text x="390.02" y="367.52" font-size="10.49" textLength="23.77" lengthAdjust="spacingAndGlyphs" fill="#000" stroke="#000" stroke-width="0.15">WCE</text>
<text x="422.47" y="367.52" font-size="10.49" textLength="20.45" lengthAdjust="spacingAndGlyphs" fill="#000" stroke="#000" stroke-width="0.15">EEU</text>
<text x="451.66" y="367.52" font-size="10.49" textLength="23.67" lengthAdjust="spacingAndGlyphs" fill="#000" stroke="#000" stroke-width="0.15">WSB</text>
<text x="484.29" y="367.52" font-size="10.49" textLength="20.01" lengthAdjust="spacingAndGlyphs" fill="#000" stroke="#000" stroke-width="0.15">ESB</text>
<text x="515.35" y="367.52" font-size="10.49" textLength="19.49" lengthAdjust="spacingAndGlyphs" fill="#000" stroke="#000" stroke-width="0.15">RFE</text>
<text x="405.69" y="394.20" font-size="10.49" textLength="23.21" lengthAdjust="spacingAndGlyphs" fill="#000" stroke="#000" stroke-width="0.15">MED</text>
<text x="435.95" y="394.20" font-size="10.49" textLength="24.30" lengthAdjust="spacingAndGlyphs" fill="#000" stroke="#000" stroke-width="0.15">WCA</text>
<text x="468.58" y="394.20" font-size="10.49" textLength="20.65" lengthAdjust="spacingAndGlyphs" fill="#000" stroke="#000" stroke-width="0.15">ECA</text>
<text x="501.54" y="394.20" font-size="10.49" textLength="16.32" lengthAdjust="spacingAndGlyphs" fill="#000" stroke="#000" stroke-width="0.15">TIB</text>
<text x="530.50" y="394.20" font-size="10.49" textLength="19.99" lengthAdjust="spacingAndGlyphs" fill="#000" stroke="#000" stroke-width="0.15">EAS</text>
<text x="391.29" y="420.87" font-size="10.49" textLength="21.23" lengthAdjust="spacingAndGlyphs" fill="#000" stroke="#000" stroke-width="0.15">SAH</text>
<text x="422.54" y="420.87" font-size="10.49" textLength="20.31" lengthAdjust="spacingAndGlyphs" fill="#000" stroke="#000" stroke-width="0.15">ARP</text>
<text x="484.29" y="420.87" font-size="10.49" textLength="20.02" lengthAdjust="spacingAndGlyphs" fill="#000" stroke="#000" stroke-width="0.15">SAS</text>
<text x="545.90" y="420.87" font-size="10.49" textLength="19.99" lengthAdjust="spacingAndGlyphs" fill="#000" stroke="#000" stroke-width="0.15">SEA</text>
<text x="374.98" y="447.55" font-size="10.49" textLength="23.04" lengthAdjust="spacingAndGlyphs" fill="#000" stroke="#000" stroke-width="0.15">WAF</text>
<text x="407.27" y="447.55" font-size="10.49" textLength="20.06" lengthAdjust="spacingAndGlyphs" fill="#000" stroke="#000" stroke-width="0.15">CAF</text>
<text x="434.57" y="447.55" font-size="10.49" textLength="27.05" lengthAdjust="spacingAndGlyphs" fill="#000" stroke="#000" stroke-width="0.15">NEAF</text>
<text x="387.13" y="474.22" font-size="10.49" textLength="29.55" lengthAdjust="spacingAndGlyphs" fill="#000" stroke="#000" stroke-width="0.15">WSAF</text>
<text x="419.75" y="474.22" font-size="10.49" textLength="25.89" lengthAdjust="spacingAndGlyphs" fill="#000" stroke="#000" stroke-width="0.15">SEAF</text>
<text x="404.35" y="500.89" font-size="10.49" textLength="25.89" lengthAdjust="spacingAndGlyphs" fill="#000" stroke="#000" stroke-width="0.15">ESAF</text>
<text x="591.01" y="447.55" font-size="10.49" textLength="22.18" lengthAdjust="spacingAndGlyphs" fill="#000" stroke="#000" stroke-width="0.15">NAU</text>
<text x="575.86" y="474.22" font-size="10.49" textLength="21.67" lengthAdjust="spacingAndGlyphs" fill="#000" stroke="#000" stroke-width="0.15">CAU</text>
<text x="607.00" y="474.22" font-size="10.49" textLength="20.99" lengthAdjust="spacingAndGlyphs" fill="#000" stroke="#000" stroke-width="0.15">EAU</text>
<text x="591.59" y="500.89" font-size="10.49" textLength="21.02" lengthAdjust="spacingAndGlyphs" fill="#000" stroke="#000" stroke-width="0.15">SAU</text>
<text x="638.13" y="420.87" font-size="10.49" textLength="20.35" lengthAdjust="spacingAndGlyphs" fill="#000" stroke="#000" stroke-width="0.15">PAC</text>
<text x="291.94" y="335.55" font-size="10.49" textLength="18.12" lengthAdjust="spacingAndGlyphs" fill="#000" stroke="#000" stroke-width="0.15">GIC</text>
<text x="458.66" y="479.25" font-size="10.49" textLength="24.68" lengthAdjust="spacingAndGlyphs" fill="#000" stroke="#000" stroke-width="0.15">MDG</text>
<text x="632.36" y="506.55" font-size="10.49" textLength="14.69" lengthAdjust="spacingAndGlyphs" fill="#000" stroke="#000" stroke-width="0.15">NZ</text>
<rect x="32.96" y="445.72" width="12.94" height="98.78" fill="#450a5e" stroke="#7a7a7a" stroke-width="0.6"/>
<rect x="97.66" y="541.59" width="12.94" height="2.91" fill="#56bd8a" stroke="#7a7a7a" stroke-width="0.6"/>
<rect x="136.48" y="538.69" width="12.94" height="5.81" fill="#eeee40" stroke="#7a7a7a" stroke-width="0.6"/>
<line x1="32.96" y1="544.50" x2="162.36" y2="544.50" stroke="#333" stroke-width="1"/>
<line x1="32.96" y1="544.50" x2="32.96" y2="546.90" stroke="#333" stroke-width="0.8"/>
<line x1="45.90" y1="544.50" x2="45.90" y2="546.90" stroke="#333" stroke-width="0.8"/>
<line x1="58.84" y1="544.50" x2="58.84" y2="546.90" stroke="#333" stroke-width="0.8"/>
<line x1="71.78" y1="544.50" x2="71.78" y2="546.90" stroke="#333" stroke-width="0.8"/>
<line x1="84.72" y1="544.50" x2="84.72" y2="546.90" stroke="#333" stroke-width="0.8"/>
<line x1="97.66" y1="544.50" x2="97.66" y2="546.90" stroke="#333" stroke-width="0.8"/>
<line x1="110.60" y1="544.50" x2="110.60" y2="546.90" stroke="#333" stroke-width="0.8"/>
<line x1="123.54" y1="544.50" x2="123.54" y2="546.90" stroke="#333" stroke-width="0.8"/>
<line x1="136.48" y1="544.50" x2="136.48" y2="546.90" stroke="#333" stroke-width="0.8"/>
<line x1="149.42" y1="544.50" x2="149.42" y2="546.90" stroke="#333" stroke-width="0.8"/>
<text x="38.23" y="556.40" font-size="9.83" textLength="15.72" lengthAdjust="spacingAndGlyphs" fill="#222" stroke="#222" stroke-width="0.15">-95</text>
<text x="64.11" y="556.40" font-size="9.83" textLength="15.72" lengthAdjust="spacingAndGlyphs" fill="#222" stroke="#222" stroke-width="0.15">-85</text>
<text x="89.99" y="556.40" font-size="9.83" textLength="15.72" lengthAdjust="spacingAndGlyphs" fill="#222" stroke="#222" stroke-width="0.15">-75</text>
<text x="115.87" y="556.40" font-size="9.83" textLength="15.72" lengthAdjust="spacingAndGlyphs" fill="#222" stroke="#222" stroke-width="0.15">-65</text>
<text x="137.02" y="556.40" font-size="9.83" textLength="24.87" lengthAdjust="spacingAndGlyphs" fill="#222" stroke="#222" stroke-width="0.15">-55%</text>
<line x1="30.2" y1="544.50" x2="33.0" y2="544.50" stroke="#333" stroke-width="0.8"/>
<text x="21.93" y="548.20" font-size="9.83" textLength="6.12" lengthAdjust="spacingAndGlyphs" fill="#222" stroke="#222" stroke-width="0.15">0</text>
<line x1="30.2" y1="523.00" x2="33.0" y2="523.00" stroke="#333" stroke-width="0.8"/>
<text x="15.81" y="526.70" font-size="9.83" textLength="12.25" lengthAdjust="spacingAndGlyphs" fill="#222" stroke="#222" stroke-width="0.15">20</text>
<line x1="30.2" y1="501.50" x2="33.0" y2="501.50" stroke="#333" stroke-width="0.8"/>
<text x="15.81" y="505.20" font-size="9.83" textLength="12.25" lengthAdjust="spacingAndGlyphs" fill="#222" stroke="#222" stroke-width="0.15">40</text>
<line x1="30.2" y1="480.00" x2="33.0" y2="480.00" stroke="#333" stroke-width="0.8"/>
<text x="15.81" y="483.70" font-size="9.83" textLength="12.25" lengthAdjust="spacingAndGlyphs" fill="#222" stroke="#222" stroke-width="0.15">60</text>
<line x1="30.2" y1="458.50" x2="33.0" y2="458.50" stroke="#333" stroke-width="0.8"/>
<text x="15.81" y="462.20" font-size="9.83" textLength="12.25" lengthAdjust="spacingAndGlyphs" fill="#222" stroke="#222" stroke-width="0.15">80</text>
<line x1="30.2" y1="437.00" x2="33.0" y2="437.00" stroke="#333" stroke-width="0.8"/>
<text x="0.42" y="440.70" font-size="9.83" textLength="27.52" lengthAdjust="spacingAndGlyphs" fill="#222" stroke="#222" stroke-width="0.15">100%</text>
<text x="-0.14" y="423.30" font-size="9.83" textLength="38.40" lengthAdjust="spacingAndGlyphs" fill="#222" stroke="#222" stroke-width="0.15">Regions</text>
<text x="61.27" y="572.40" font-size="9.83" textLength="73.84" lengthAdjust="spacingAndGlyphs" fill="#222" stroke="#222" stroke-width="0.15">Relative bias in</text>
<text x="39.35" y="582.50" font-size="9.83" textLength="116.78" lengthAdjust="spacingAndGlyphs" fill="#222" stroke="#222" stroke-width="0.15">impervious surface area</text>
<text x="393.10" y="584.00" font-size="13.64" font-weight="bold" textLength="14.04" lengthAdjust="spacingAndGlyphs" fill="#000">c)</text>
<text x="411.79" y="584.00" font-size="13.64" font-weight="bold" textLength="42.51" lengthAdjust="spacingAndGlyphs" fill="#000">CLMU</text>
<g>
<polygon points="232.50,609.02 247.90,617.91 247.90,635.69 232.50,644.58 217.10,635.69 217.10,617.91" fill="#7587b1" stroke="#e2e2e2" stroke-width="0.6"/>
<polygon points="263.30,609.02 278.70,617.91 278.70,635.69 263.30,644.58 247.90,635.69 247.90,617.91" fill="#7b4e8e" stroke="#e2e2e2" stroke-width="0.6"/>
<polygon points="217.10,635.69 232.50,644.58 232.50,662.37 217.10,671.26 201.70,662.37 201.70,644.58" fill="#7587b1" stroke="#e2e2e2" stroke-width="0.6"/>
<polygon points="247.90,635.69 263.30,644.58 263.30,662.37 247.90,671.26 232.50,662.37 232.50,644.58" fill="#7f6da6" stroke="#e2e2e2" stroke-width="0.6"/>
<polygon points="278.70,635.69 294.10,644.58 294.10,662.37 278.70,671.26 263.30,662.37 263.30,644.58" fill="#7f6da6" stroke="#e2e2e2" stroke-width="0.6"/>
<polygon points="232.50,662.37 247.90,671.26 247.90,689.04 232.50,697.93 217.10,689.04 217.10,671.26" fill="#7f6da6" stroke="#e2e2e2" stroke-width="0.6"/>
<polygon points="247.90,689.04 263.30,697.93 263.30,715.71 247.90,724.60 232.50,715.71 232.50,697.93" fill="#7587b1" stroke="#e2e2e2" stroke-width="0.6"/>
<polygon points="278.70,689.04 294.10,697.93 294.10,715.71 278.70,724.60 263.30,715.71 263.30,697.93" fill="#7587b1" stroke="#e2e2e2" stroke-width="0.6"/>
<polygon points="294.10,715.71 309.50,724.60 309.50,742.39 294.10,751.28 278.70,742.39 278.70,724.60" fill="#70a0ae" stroke="#e2e2e2" stroke-width="0.6"/>
<polygon points="324.90,715.71 340.30,724.60 340.30,742.39 324.90,751.28 309.50,742.39 309.50,724.60" fill="#7587b1" stroke="#e2e2e2" stroke-width="0.6"/>
<polygon points="309.50,742.39 324.90,751.28 324.90,769.06 309.50,777.95 294.10,769.06 294.10,751.28" fill="#7f6da6" stroke="#e2e2e2" stroke-width="0.6"/>
<polygon points="340.30,742.39 355.70,751.28 355.70,769.06 340.30,777.95 324.90,769.06 324.90,751.28" fill="#7587b1" stroke="#e2e2e2" stroke-width="0.6"/>
<polygon points="294.10,769.06 309.50,777.95 309.50,795.74 294.10,804.63 278.70,795.74 278.70,777.95" fill="#70a0ae" stroke="#e2e2e2" stroke-width="0.6"/>
<polygon points="324.90,769.06 340.30,777.95 340.30,795.74 324.90,804.63 309.50,795.74 309.50,777.95" fill="#70a0ae" stroke="#e2e2e2" stroke-width="0.6"/>
<polygon points="309.50,795.74 324.90,804.63 324.90,822.41 309.50,831.30 294.10,822.41 294.10,804.63" fill="#fff" stroke="#c8c8c8" stroke-width="0.8"/>
<polygon points="309.50,796.24 324.47,804.88 324.47,822.16 309.50,830.80 294.53,822.16 294.53,804.88" fill="url(#hat)"/>
<polygon points="417.30,609.02 432.70,617.91 432.70,635.69 417.30,644.58 401.90,635.69 401.90,617.91" fill="#eff46e" stroke="#e2e2e2" stroke-width="0.6"/>
<polygon points="509.70,609.02 525.10,617.91 525.10,635.69 509.70,644.58 494.30,635.69 494.30,617.91" fill="#fff" stroke="#c8c8c8" stroke-width="0.8"/>
<polygon points="509.70,609.52 524.67,618.16 524.67,635.44 509.70,644.08 494.73,635.44 494.73,618.16" fill="url(#hat)"/>
<polygon points="401.90,635.69 417.30,644.58 417.30,662.37 401.90,671.26 386.50,662.37 386.50,644.58" fill="#eff46e" stroke="#e2e2e2" stroke-width="0.6"/>
<polygon points="432.70,635.69 448.10,644.58 448.10,662.37 432.70,671.26 417.30,662.37 417.30,644.58" fill="#fff" stroke="#c8c8c8" stroke-width="0.8"/>
<polygon points="432.70,636.19 447.67,644.83 447.67,662.12 432.70,670.76 417.73,662.12 417.73,644.83" fill="url(#hat)"/>
<polygon points="463.50,635.69 478.90,644.58 478.90,662.37 463.50,671.26 448.10,662.37 448.10,644.58" fill="#fff" stroke="#c8c8c8" stroke-width="0.8"/>
<polygon points="463.50,636.19 478.47,644.83 478.47,662.12 463.50,670.76 448.53,662.12 448.53,644.83" fill="url(#hat)"/>
<polygon points="494.30,635.69 509.70,644.58 509.70,662.37 494.30,671.26 478.90,662.37 478.90,644.58" fill="#fff" stroke="#c8c8c8" stroke-width="0.8"/>
<polygon points="494.30,636.19 509.27,644.83 509.27,662.12 494.30,670.76 479.33,662.12 479.33,644.83" fill="url(#hat)"/>
<polygon points="525.10,635.69 540.50,644.58 540.50,662.37 525.10,671.26 509.70,662.37 509.70,644.58" fill="#7587b1" stroke="#e2e2e2" stroke-width="0.6"/>
<polygon points="417.30,662.37 432.70,671.26 432.70,689.04 417.30,697.93 401.90,689.04 401.90,671.26" fill="#7ad4b0" stroke="#e2e2e2" stroke-width="0.6"/>
<polygon points="448.10,662.37 463.50,671.26 463.50,689.04 448.10,697.93 432.70,689.04 432.70,671.26" fill="#7587b1" stroke="#e2e2e2" stroke-width="0.6"/>
<polygon points="478.90,662.37 494.30,671.26 494.30,689.04 478.90,697.93 463.50,689.04 463.50,671.26" fill="#7f6da6" stroke="#e2e2e2" stroke-width="0.6"/>
<polygon points="509.70,662.37 525.10,671.26 525.10,689.04 509.70,697.93 494.30,689.04 494.30,671.26" fill="#7ad4b0" stroke="#e2e2e2" stroke-width="0.6"/>
<polygon points="540.50,662.37 555.90,671.26 555.90,689.04 540.50,697.93 525.10,689.04 525.10,671.26" fill="#7587b1" stroke="#e2e2e2" stroke-width="0.6"/>
<polygon points="401.90,689.04 417.30,697.93 417.30,715.71 401.90,724.60 386.50,715.71 386.50,697.93" fill="#c4f078" stroke="#e2e2e2" stroke-width="0.6"/>
<polygon points="432.70,689.04 448.10,697.93 448.10,715.71 432.70,724.60 417.30,715.71 417.30,697.93" fill="#7587b1" stroke="#e2e2e2" stroke-width="0.6"/>
<polygon points="494.30,689.04 509.70,697.93 509.70,715.71 494.30,724.60 478.90,715.71 478.90,697.93" fill="#9ae997" stroke="#e2e2e2" stroke-width="0.6"/>
<polygon points="555.90,689.04 571.30,697.93 571.30,715.71 555.90,724.60 540.50,715.71 540.50,697.93" fill="#70a0ae" stroke="#e2e2e2" stroke-width="0.6"/>
<polygon points="386.50,715.71 401.90,724.60 401.90,742.39 386.50,751.28 371.10,742.39 371.10,724.60" fill="#7f6da6" stroke="#e2e2e2" stroke-width="0.6"/>
<polygon points="417.30,715.71 432.70,724.60 432.70,742.39 417.30,751.28 401.90,742.39 401.90,724.60" fill="#7587b1" stroke="#e2e2e2" stroke-width="0.6"/>
<polygon points="448.10,715.71 463.50,724.60 463.50,742.39 448.10,751.28 432.70,742.39 432.70,724.60" fill="#7587b1" stroke="#e2e2e2" stroke-width="0.6"/>
<polygon points="401.90,742.39 417.30,751.28 417.30,769.06 401.90,777.95 386.50,769.06 386.50,751.28" fill="#7f6da6" stroke="#e2e2e2" stroke-width="0.6"/>
<polygon points="432.70,742.39 448.10,751.28 448.10,769.06 432.70,777.95 417.30,769.06 417.30,751.28" fill="#7f6da6" stroke="#e2e2e2" stroke-width="0.6"/>
<polygon points="417.30,769.06 432.70,777.95 432.70,795.74 417.30,804.63 401.90,795.74 401.90,777.95" fill="#7587b1" stroke="#e2e2e2" stroke-width="0.6"/>
<polygon points="602.10,715.71 617.50,724.60 617.50,742.39 602.10,751.28 586.70,742.39 586.70,724.60" fill="#7f6da6" stroke="#e2e2e2" stroke-width="0.6"/>
<polygon points="586.70,742.39 602.10,751.28 602.10,769.06 586.70,777.95 571.30,769.06 571.30,751.28" fill="#fff" stroke="#c8c8c8" stroke-width="0.8"/>
<polygon points="586.70,742.89 601.67,751.53 601.67,768.81 586.70,777.45 571.73,768.81 571.73,751.53" fill="url(#hat)"/>
<polygon points="617.50,742.39 632.90,751.28 632.90,769.06 617.50,777.95 602.10,769.06 602.10,751.28" fill="#7587b1" stroke="#e2e2e2" stroke-width="0.6"/>
<polygon points="602.10,769.06 617.50,777.95 617.50,795.74 602.10,804.63 586.70,795.74 586.70,777.95" fill="#7587b1" stroke="#e2e2e2" stroke-width="0.6"/>
<polygon points="648.30,689.04 663.70,697.93 663.70,715.71 648.30,724.60 632.90,715.71 632.90,697.93" fill="#fff" stroke="#c8c8c8" stroke-width="0.8"/>
<polygon points="648.30,689.54 663.27,698.18 663.27,715.46 648.30,724.10 633.33,715.46 633.33,698.18" fill="url(#hat)"/>
<polygon points="301.00,603.72 316.40,612.61 316.40,630.39 301.00,639.28 285.60,630.39 285.60,612.61" fill="#fff" stroke="#c8c8c8" stroke-width="0.8"/>
<polygon points="301.00,604.22 315.97,612.86 315.97,630.14 301.00,638.78 286.03,630.14 286.03,612.86" fill="url(#hat)"/>
<polygon points="471.00,747.42 486.40,756.31 486.40,774.09 471.00,782.98 455.60,774.09 455.60,756.31" fill="#7587b1" stroke="#e2e2e2" stroke-width="0.6"/>
<polygon points="639.70,774.72 655.10,783.61 655.10,801.39 639.70,810.28 624.30,801.39 624.30,783.61" fill="#70a0ae" stroke="#e2e2e2" stroke-width="0.6"/>
</g>
<g fill="none" stroke="#5c5c5c" stroke-width="0.85" stroke-linecap="round" stroke-linejoin="round">
<path d="M197.60,663.48 L197.57,663.37 L197.57,663.36 L197.49,662.97 L197.49,662.97 L197.45,662.57 L197.45,662.57 L197.45,662.37 L197.45,644.58 L197.45,644.38 L197.45,644.38 L197.49,643.98 L197.49,643.98 L197.57,643.58 L197.57,643.58 L197.68,643.19 L197.68,643.19 L197.83,642.82 L197.84,642.82 L198.02,642.46 L198.02,642.46 L198.24,642.12 L198.24,642.12 L198.49,641.80 L198.49,641.80 L198.77,641.51 L198.77,641.51 L199.07,641.24 L199.07,641.24 L199.40,641.01 L199.40,641.01 L199.57,640.90 L212.85,633.24 L212.85,617.91 L212.85,617.71 L212.85,617.70 L212.89,617.31 L212.89,617.30 L212.97,616.91 L212.97,616.90 L213.08,616.52 L213.08,616.52 L213.23,616.15 L213.24,616.14 L213.42,615.79 L213.42,615.78 L213.64,615.45 L213.64,615.44 L213.89,615.13 L213.89,615.12 L214.17,614.83 L214.17,614.83 L214.47,614.57 L214.47,614.57 L214.80,614.33 M214.80,614.33 L214.80,614.33 L214.97,614.23 L230.37,605.34 L230.55,605.24 L230.55,605.24 L230.92,605.07 L230.92,605.07 L231.30,604.94 L231.30,604.94 L231.69,604.84 L231.70,604.84 L232.09,604.79 L232.10,604.79 L232.50,604.77 L232.50,604.77 L232.90,604.79 L232.91,604.79 L233.30,604.84 L233.31,604.84 L233.70,604.94 L233.70,604.94 L234.08,605.07 L234.08,605.07 L234.45,605.24 L234.45,605.24 L234.63,605.34 L247.90,613.00 L261.17,605.34 L261.35,605.24 L261.35,605.24 L261.72,605.07 L261.72,605.07 L262.10,604.94 L262.10,604.94 L262.49,604.84 L262.50,604.84 L262.89,604.79 L262.90,604.79 L263.30,604.77 L263.30,604.77 L263.70,604.79 L263.71,604.79 L263.81,604.80"/>
<path d="M281.36,612.31 L281.39,612.01 L281.39,612.00 L281.47,611.61 L281.47,611.60 L281.58,611.22 L281.58,611.22 L281.73,610.85 L281.74,610.84 L281.92,610.49 L281.92,610.48 L282.14,610.15 L282.14,610.14 L282.39,609.83 L282.39,609.82 L282.67,609.53 L282.67,609.53 L282.97,609.27 L282.97,609.27 L283.30,609.03 L283.30,609.03 L283.47,608.93 L298.87,600.04 L299.05,599.94 M299.05,599.94 L299.05,599.94 L299.42,599.77 L299.42,599.77 L299.80,599.64 L299.80,599.64 L300.19,599.54 L300.20,599.54 L300.59,599.49 L300.60,599.49 L301.00,599.47 L301.00,599.47 L301.40,599.49 L301.41,599.49 L301.80,599.54 L301.81,599.54 L302.20,599.64 L302.20,599.64 L302.58,599.77 L302.58,599.77 L302.95,599.94 L302.95,599.94 L303.13,600.04 L318.53,608.93 L318.70,609.03 L318.70,609.03 L319.03,609.27 L319.03,609.27 L319.33,609.53 L319.33,609.53 L319.61,609.82 L319.61,609.83 L319.86,610.14 L319.86,610.15 L320.08,610.48 L320.08,610.49 L320.26,610.84 L320.27,610.85 L320.42,611.22 L320.42,611.22 L320.53,611.60 L320.53,611.61 L320.61,612.00 L320.61,612.01 L320.65,612.40 L320.65,612.41 L320.65,612.61 L320.65,630.39 L320.65,630.59 L320.65,630.60 L320.61,630.99 L320.61,631.00 L320.53,631.39 L320.53,631.40 L320.42,631.78 L320.42,631.78 L320.27,632.15 L320.26,632.16 L320.08,632.51 L320.08,632.52 L320.02,632.62"/>
<path d="M262.59,721.03 L250.03,728.29 L249.85,728.38 L249.85,728.38 L249.48,728.55 L249.48,728.55 L249.10,728.68 L249.10,728.68 L248.71,728.78 L248.70,728.78 L248.31,728.84 L248.30,728.84 L247.90,728.85 L247.90,728.85 L247.50,728.84 L247.49,728.84 L247.10,728.78 L247.09,728.78 L246.70,728.68 L246.70,728.68 L246.32,728.55 L246.32,728.55 L245.95,728.38 L245.95,728.38 L245.77,728.29 L230.37,719.39 L230.20,719.29 L230.20,719.29 L229.87,719.06 L229.87,719.05 L229.57,718.79 L229.57,718.79 L229.29,718.50 L229.29,718.49 L229.04,718.18 L229.04,718.18 L228.82,717.84 L228.82,717.84 L228.64,717.48 L228.63,717.48 L228.48,717.11 L228.48,717.10 L228.37,716.72 L228.37,716.71 L228.29,716.32 L228.29,716.32 L228.25,715.92 L228.25,715.91 L228.25,715.71 L228.25,700.38 L214.97,692.72 L214.80,692.62 L214.80,692.61 L214.47,692.38 L214.47,692.38 L214.17,692.12 L214.17,692.11 L213.89,691.82 L213.89,691.82 L213.64,691.51 L213.64,691.50 L213.42,691.17 L213.42,691.16 L213.24,690.81 L213.23,690.80 L213.08,690.43 L213.08,690.43 L212.97,690.04 L212.97,690.04 L212.89,689.65 L212.89,689.64 L212.85,689.24 L212.85,689.24 L212.85,689.04 L212.85,674.00"/>
<path d="M279.15,684.82 L279.50,684.87 L279.51,684.87 L279.90,684.96 L279.90,684.96 L280.28,685.09 L280.28,685.09 L280.65,685.26 L280.65,685.26 L280.83,685.36 L296.23,694.25 L296.40,694.35 L296.40,694.36 L296.73,694.59 L296.73,694.59 L297.03,694.85 L297.03,694.86 L297.31,695.15 L297.31,695.15 L297.56,695.46 L297.56,695.47 L297.78,695.80 L297.78,695.81 L297.96,696.16 L297.97,696.17 L298.12,696.54 L298.12,696.54 L298.23,696.93 L298.23,696.93 L298.31,697.32 L298.31,697.33 L298.35,697.73 L298.35,697.73 L298.35,697.93 L298.35,713.40"/>
<path d="M344.51,724.00 L344.51,724.00 L344.55,724.40 L344.55,724.40 L344.55,724.60 L344.55,739.93 L357.83,747.60 L358.00,747.70 L358.00,747.70 L358.33,747.94 L358.33,747.94 L358.63,748.20 L358.63,748.20 L358.91,748.49 L358.91,748.50 L359.16,748.81 L359.16,748.82 L359.38,749.15 L359.38,749.16 L359.56,749.51 L359.57,749.52 L359.72,749.89 L359.72,749.89 L359.83,750.27 L359.83,750.28 L359.91,750.67 L359.91,750.68 L359.95,751.07 L359.95,751.08 L359.95,751.28 L359.95,769.06 L359.95,769.26 L359.95,769.27 L359.91,769.66 L359.91,769.67 L359.83,770.06 L359.83,770.07 L359.72,770.45 L359.72,770.45 L359.57,770.82 L359.56,770.83 L359.38,771.18 L359.38,771.19 L359.16,771.52 L359.16,771.53 L358.91,771.84 L358.91,771.85 L358.63,772.14 L358.63,772.14 L358.33,772.40 L358.33,772.40 L358.00,772.64 L358.00,772.64 L357.83,772.74 L344.55,780.41 L344.55,795.74 L344.55,795.94 L344.55,795.94 L344.51,796.34 L344.51,796.34 L344.43,796.73 L344.43,796.74 L344.32,797.12 L344.32,797.13 L344.17,797.50 L344.16,797.50 L343.98,797.86 L343.98,797.86 L343.76,798.20 L343.76,798.20 L343.51,798.52 L343.51,798.52 L343.23,798.81 L343.23,798.81 L342.93,799.07 L342.93,799.08 L342.60,799.31 L342.60,799.31 L342.43,799.42 L329.15,807.08 L329.15,822.41 L329.15,822.61 L329.15,822.61 L329.11,823.01 L329.11,823.02 L329.03,823.41 L329.03,823.41 L328.92,823.80 L328.92,823.80 L328.77,824.17 L328.76,824.18 L328.58,824.53 L328.58,824.54 L328.36,824.87 L328.36,824.88 L328.11,825.19 L328.11,825.19 L327.83,825.48 L327.83,825.49 L327.53,825.75 L327.53,825.75 L327.20,825.98 L327.20,825.99 L327.03,826.09 L311.63,834.98 L311.45,835.08 L311.45,835.08 L311.08,835.25 L311.08,835.25 L310.70,835.38 L310.70,835.38 L310.31,835.47 L310.30,835.47 L309.91,835.53 L309.90,835.53 L309.50,835.55 L309.50,835.55 L309.10,835.53 L309.09,835.53 L308.70,835.47 L308.69,835.47 L308.30,835.38 L308.30,835.38 L307.92,835.25 L307.92,835.25 L307.55,835.08 L307.55,835.08 L307.37,834.98 L291.97,826.09 L291.80,825.99 L291.80,825.98 L291.47,825.75 L291.47,825.75 L291.17,825.49 L291.17,825.48 L290.89,825.19 L290.89,825.19 L290.64,824.88 L290.64,824.87 L290.42,824.54 L290.42,824.53 L290.24,824.18 L290.23,824.17 L290.08,823.80 L290.08,823.80 L289.97,823.41 L289.97,823.41 L289.89,823.02 L289.89,823.01 L289.85,822.61 L289.85,822.61 L289.85,822.41 L289.85,807.08 L276.57,799.42 L276.40,799.31 L276.40,799.31 L276.07,799.08 L276.07,799.07 L275.77,798.81 L275.77,798.81 L275.49,798.52 L275.49,798.52 L275.24,798.20 L275.24,798.20 L275.02,797.86 L275.02,797.86 L274.84,797.50 L274.83,797.50 L274.68,797.13 L274.68,797.12 L274.57,796.74 L274.57,796.73 L274.49,796.34 L274.49,796.34 L274.45,795.94 L274.45,795.94 L274.45,795.74 L274.45,777.95 L274.45,777.75 L274.45,777.75 L274.49,777.35 L274.49,777.35 L274.57,776.95 L274.57,776.95 L274.68,776.56 L274.68,776.56 L274.83,776.19 L274.84,776.19 L275.02,775.83 L275.02,775.83 L275.24,775.49 L275.24,775.49 L275.49,775.17 L275.49,775.17 L275.77,774.88 L275.77,774.88 L276.07,774.61 L276.07,774.61 L276.40,774.38 L276.40,774.38 L276.57,774.27 L289.85,766.61 L289.85,753.73 L276.57,746.07 L276.40,745.96 L276.40,745.96 L276.07,745.73 L276.07,745.73 L275.77,745.46 L275.77,745.46 L275.49,745.17 L275.49,745.17 L275.24,744.85 L275.24,744.85 L275.02,744.51 L275.02,744.51 L274.84,744.15 L274.83,744.15 L274.68,743.78 L274.68,743.78 L274.57,743.39 L274.57,743.39 L274.49,742.99 L274.49,742.99 L274.45,742.59 L274.45,742.59 L274.45,742.39 L274.45,726.50"/>
<path d="M397.65,673.80 L397.65,673.71 L384.37,666.05 L384.20,665.94 L384.20,665.94 L383.87,665.71 L383.87,665.70 L383.57,665.44 L383.57,665.44 L383.29,665.15 L383.29,665.15 L383.04,664.83 L383.04,664.83 L382.82,664.49 L382.82,664.49 L382.64,664.13 L382.63,664.13 L382.48,663.76 L382.48,663.75 L382.37,663.37 L382.37,663.36 L382.29,662.97 L382.29,662.97 L382.25,662.57 L382.25,662.57 L382.25,662.37 L382.25,644.58 L382.25,644.38 L382.25,644.38 L382.29,643.98 L382.29,643.98 L382.37,643.58 L382.37,643.58 L382.48,643.19 L382.48,643.19 L382.63,642.82 L382.64,642.82 L382.82,642.46 L382.82,642.46 L383.04,642.12 L383.04,642.12 L383.29,641.80 L383.29,641.80 L383.57,641.51 L383.57,641.51 L383.87,641.24 L383.87,641.24 L384.20,641.01 L384.20,641.01 L384.37,640.90 L397.65,633.24 L397.65,617.91 L397.65,617.71 L397.65,617.70 L397.69,617.31 L397.69,617.30 L397.77,616.91 L397.77,616.90 L397.88,616.52 L397.88,616.52 L398.03,616.15 L398.04,616.14 L398.22,615.79 L398.22,615.78 L398.44,615.45 L398.44,615.44 L398.69,615.13 L398.69,615.12 L398.97,614.83 L398.97,614.83 L399.27,614.57 L399.27,614.57 L399.60,614.33 M399.60,614.33 L399.60,614.33 L399.77,614.23 L415.17,605.34 L415.35,605.24 L415.35,605.24 L415.72,605.07 L415.72,605.07 L416.10,604.94 L416.10,604.94 L416.49,604.84 L416.50,604.84 L416.89,604.79 L416.90,604.79 L417.30,604.77 L417.30,604.77 L417.70,604.79 L417.71,604.79 L418.10,604.84 L418.11,604.84 L418.50,604.94 L418.50,604.94 L418.88,605.07 L418.88,605.07 L419.25,605.24 L419.25,605.24 L419.43,605.34 L434.83,614.23 L435.00,614.33 L435.00,614.33 L435.33,614.57 L435.33,614.57 L435.63,614.83 L435.63,614.83 L435.91,615.12 L435.91,615.13 L436.16,615.44 L436.16,615.45 L436.38,615.78 L436.38,615.79 L436.56,616.14 L436.57,616.15 L436.72,616.52 L436.72,616.52 L436.83,616.90 L436.83,616.91 L436.91,617.30 L436.91,617.31 L436.95,617.70 L436.95,617.71 L436.95,617.91 L436.95,633.24 L448.37,639.83"/>
<path d="M464.67,631.61 L464.70,631.61 L464.70,631.61 L465.08,631.74 L465.08,631.75 L465.45,631.91 L465.45,631.91 L465.63,632.01 L478.90,639.68 L490.05,633.24 L490.05,617.91 L490.05,617.71 L490.05,617.70 L490.09,617.31 L490.09,617.30 L490.17,616.91 L490.17,616.90 L490.28,616.52 L490.28,616.52 L490.43,616.15 L490.44,616.14 L490.62,615.79 L490.62,615.78 L490.84,615.45 L490.84,615.44 L491.09,615.13 L491.09,615.12 L491.37,614.83 L491.37,614.83 L491.67,614.57 L491.67,614.57 L492.00,614.33 L492.00,614.33 L492.17,614.23 L507.57,605.34 L507.75,605.24 L507.75,605.24 L508.12,605.07 L508.12,605.07 L508.50,604.94 L508.50,604.94 L508.89,604.84 L508.90,604.84 L509.29,604.79 L509.30,604.79 L509.70,604.77 L509.70,604.77 L510.10,604.79 L510.11,604.79 L510.50,604.84 L510.51,604.84 L510.90,604.94 L510.90,604.94 L511.28,605.07 L511.28,605.07 L511.65,605.24 L511.65,605.24 L511.83,605.34 L527.23,614.23 L527.40,614.33 L527.40,614.33 L527.73,614.57 L527.73,614.57 L528.03,614.83 L528.03,614.83 L528.31,615.12 L528.31,615.13 L528.56,615.44 L528.56,615.45 L528.78,615.78 L528.78,615.79 L528.96,616.14 L528.97,616.15 L529.12,616.52 L529.12,616.52 L529.23,616.90 L529.23,616.91 L529.31,617.30 L529.31,617.31 L529.35,617.70 L529.35,617.71 L529.35,617.91 L529.35,633.24 L542.63,640.90 L542.80,641.01 L542.80,641.01 L543.13,641.24 L543.13,641.24 L543.43,641.51 L543.43,641.51 L543.71,641.80 L543.71,641.80 L543.96,642.12 L543.96,642.12 L544.18,642.46 L544.18,642.46 L544.36,642.82 L544.37,642.82 L544.52,643.19 L544.52,643.19 L544.63,643.58 L544.63,643.58 L544.71,643.98 L544.71,643.98 L544.75,644.38 L544.75,644.38 L544.75,644.58 L544.75,659.91 L558.03,667.58 L558.20,667.68 L558.20,667.68 L558.53,667.91 L558.53,667.92 L558.83,668.18 L558.83,668.18 L559.11,668.47 L559.11,668.48 L559.36,668.79 L559.36,668.79 L559.58,669.13 L559.58,669.13 L559.76,669.49 L559.77,669.49 L559.92,669.86 L559.92,669.87 L560.03,670.25 L560.03,670.26 L560.11,670.65 L560.11,670.65 L560.15,671.05 L560.15,671.06 L560.15,671.26 L560.15,686.59 L573.43,694.25 L573.60,694.35 L573.60,694.36 L573.93,694.59 L573.93,694.59 L574.23,694.85 L574.23,694.86 L574.51,695.15 L574.51,695.15 L574.76,695.46 L574.76,695.47 L574.98,695.80 L574.98,695.81 L575.16,696.16 L575.17,696.17 L575.32,696.54 L575.32,696.54 L575.43,696.93 L575.43,696.93 L575.51,697.32 L575.51,697.33 L575.55,697.73 L575.55,697.73 L575.55,697.93 L575.55,715.71 L575.55,715.91 L575.55,715.92 L575.51,716.32 L575.51,716.32 L575.43,716.71 L575.43,716.72 L575.32,717.10 L575.32,717.11 L575.17,717.48 L575.16,717.48 L574.98,717.84 L574.98,717.84 L574.76,718.18 L574.76,718.18 L574.51,718.49 L574.51,718.50 L574.23,718.79 L574.23,718.79 L573.93,719.05 L573.93,719.06 L573.60,719.29 L573.60,719.29 L573.43,719.39 L558.03,728.29 L557.85,728.38 L557.85,728.38 L557.48,728.55 L557.48,728.55 L557.10,728.68 L557.10,728.68 L556.71,728.78 L556.70,728.78 L556.31,728.84 L556.30,728.84 L555.90,728.85 L555.90,728.85 L555.50,728.84 L555.49,728.84 L555.10,728.78 L555.09,728.78 L554.70,728.68 L554.70,728.68 L554.32,728.55 L554.32,728.55 L553.95,728.38 L553.95,728.38 L553.77,728.29 L538.37,719.39 L538.20,719.29 L538.20,719.29 L537.87,719.06 L537.87,719.05 L537.57,718.79 L537.57,718.79 L537.29,718.50 L537.29,718.49 L537.04,718.18 L537.04,718.18 L536.82,717.84 L536.82,717.84 L536.64,717.48 L536.63,717.48 L536.48,717.11 L536.48,717.10 L536.37,716.72 L536.37,716.71 L536.29,716.32 L536.29,716.32 L536.25,715.92 L536.25,715.91 L536.25,715.71 L536.25,700.38 L525.10,693.95 L513.95,700.38 L513.95,715.71 L513.95,715.91 L513.95,715.92 L513.91,716.32 L513.91,716.32 L513.83,716.71 L513.83,716.72 L513.72,717.10 L513.72,717.11 L513.57,717.48 L513.56,717.48 L513.38,717.84 L513.38,717.84 L513.16,718.18 L513.16,718.18 L512.91,718.49 L512.91,718.50 L512.63,718.79 L512.63,718.79 L512.33,719.05 L512.33,719.06 L512.00,719.29 L512.00,719.29 L511.83,719.39 L496.43,728.29 L496.25,728.38 L496.25,728.38 L495.88,728.55 L495.88,728.55 L495.50,728.68 L495.50,728.68 L495.11,728.78 L495.10,728.78 L494.71,728.84 L494.70,728.84 L494.30,728.85 L494.30,728.85 L493.90,728.84 L493.89,728.84 L493.50,728.78 L493.49,728.78 L493.10,728.68 L493.10,728.68 L492.72,728.55 L492.72,728.55 L492.35,728.38 L492.35,728.38 L492.17,728.29 L476.77,719.39 L476.60,719.29 L476.60,719.29 L476.27,719.06 L476.27,719.05 L475.97,718.79 L475.97,718.79 L475.69,718.50 L475.69,718.49 L475.44,718.18 L475.44,718.18 L475.22,717.84 L475.22,717.84 L475.04,717.48 L475.03,717.48 L474.88,717.11 L474.88,717.10 L474.77,716.72 L474.77,716.71 L474.69,716.32 L474.69,716.32 L474.65,715.92 L474.65,715.91 L474.65,715.71 L474.65,700.38 L463.50,693.95 L452.35,700.38 L452.35,712.90"/>
<path d="M450.19,772.76 L436.95,780.41 L436.95,795.74 L436.95,795.94 L436.95,795.94 L436.91,796.34 L436.91,796.34 L436.83,796.73 L436.83,796.74 L436.72,797.12 L436.72,797.13 L436.57,797.50 L436.56,797.50 L436.38,797.86 L436.38,797.86 L436.16,798.20 L436.16,798.20 L435.91,798.52 L435.91,798.52 L435.63,798.81 L435.63,798.81 L435.33,799.07 L435.33,799.08 L435.00,799.31 L435.00,799.31 L434.83,799.42 L419.43,808.31 L419.25,808.40 L419.25,808.41 L418.88,808.57 L418.88,808.57 L418.50,808.70 L418.50,808.71 L418.11,808.80 L418.10,808.80 L417.71,808.86 L417.70,808.86 L417.30,808.88 L417.30,808.88 L416.90,808.86 L416.89,808.86 L416.50,808.80 L416.49,808.80 L416.10,808.71 L416.10,808.70 L415.72,808.57 L415.72,808.57 L415.35,808.41 L415.35,808.40 L415.17,808.31 L399.77,799.42 L399.60,799.31 L399.60,799.31 L399.27,799.08 L399.27,799.07 L398.97,798.81 L398.97,798.81 L398.69,798.52 L398.69,798.52 L398.44,798.20 L398.44,798.20 L398.22,797.86 L398.22,797.86 L398.04,797.50 L398.03,797.50 L397.88,797.13 L397.88,797.12 L397.77,796.74 L397.77,796.73 L397.69,796.34 L397.69,796.34 L397.65,795.94 L397.65,795.94 L397.65,795.74 L397.65,780.41 L384.37,772.74 L384.20,772.64 L384.20,772.64 L383.87,772.40 L383.87,772.40 L383.57,772.14 L383.57,772.14 L383.29,771.85 L383.29,771.84 L383.04,771.53 L383.04,771.52 L382.82,771.19 L382.82,771.18 L382.64,770.83 L382.63,770.82 L382.48,770.45 L382.48,770.45 L382.37,770.07 L382.37,770.06 L382.29,769.67 L382.29,769.66 L382.25,769.27 L382.25,769.26 L382.25,769.06 L382.25,753.73 L368.97,746.07 L368.80,745.96 L368.80,745.96 L368.47,745.73 L368.47,745.73 L368.17,745.46 L368.17,745.46 L367.89,745.17 L367.89,745.17 L367.64,744.85 L367.64,744.85 L367.42,744.51 L367.42,744.51 L367.24,744.15 L367.23,744.15 L367.08,743.78 L367.08,743.78 L366.97,743.39 L366.97,743.39 L366.89,742.99 L366.89,742.99 L366.85,742.59 L366.85,742.59 L366.85,742.39 L366.85,724.60 L366.85,724.40 L366.85,724.40 L366.89,724.00 L366.89,724.00 L366.97,723.61 L366.97,723.60 L367.08,723.22 L367.08,723.21 L367.23,722.84 L367.24,722.84 L367.42,722.48 L367.42,722.48 L367.64,722.14 L367.64,722.14 L367.89,721.82 L367.89,721.82 L368.17,721.53 L368.17,721.53 L368.47,721.27 L368.47,721.26 L368.80,721.03 L368.80,721.03 L368.97,720.92 L382.25,713.26 L382.25,697.93 L382.25,697.73 L382.25,697.73 L382.29,697.33 L382.29,697.32 L382.37,696.93 L382.37,696.93 L382.48,696.54 L382.48,696.54 L382.63,696.17 L382.64,696.16 L382.82,695.81 L382.82,695.80 L383.04,695.47 L383.04,695.46 L383.29,695.15 L383.29,695.15 L383.57,694.86 L383.57,694.85 L383.87,694.59 L383.87,694.59 L384.20,694.36 M384.20,694.36 L384.20,694.35 L384.37,694.25 L397.05,686.93"/>
<path d="M490.65,773.00 L490.65,774.09 L490.65,774.29 L490.65,774.30 L490.61,774.69 L490.61,774.70 L490.53,775.09 L490.53,775.10 L490.42,775.48 L490.42,775.48 L490.27,775.85 L490.26,775.86 L490.08,776.21 L490.08,776.22 L489.86,776.55 L489.86,776.56 L489.61,776.87 L489.61,776.88 L489.33,777.17 L489.33,777.17 L489.03,777.43 L489.03,777.43 L488.70,777.67 L488.70,777.67 L488.53,777.77 L473.13,786.66 L472.95,786.76 L472.95,786.76 L472.58,786.93 L472.58,786.93 L472.20,787.06 L472.20,787.06 L471.81,787.16 L471.80,787.16 L471.41,787.21 L471.40,787.21 L471.00,787.23 L471.00,787.23 L470.60,787.21 L470.59,787.21 L470.20,787.16 L470.19,787.16 L469.80,787.06 L469.80,787.06 L469.42,786.93 L469.42,786.93 L469.05,786.76 L469.05,786.76 L468.87,786.66 L453.47,777.77 L453.30,777.67 L453.30,777.67 L452.97,777.43 L452.97,777.43 L452.67,777.17 L452.67,777.17 L452.39,776.88 L452.39,776.87 L452.14,776.56 L452.14,776.55 L451.92,776.22 L451.92,776.21 L451.74,775.86 L451.73,775.85 L451.58,775.48 L451.58,775.48 L451.47,775.10 L451.47,775.09 L451.39,774.70 L451.39,774.69 L451.35,774.30 L451.35,774.29 L451.35,774.09 L451.35,774.00"/>
<path d="M619.28,799.62 L604.23,808.31 L604.05,808.40 L604.05,808.41 L603.68,808.57 L603.68,808.57 L603.30,808.70 L603.30,808.71 L602.91,808.80 L602.90,808.80 L602.51,808.86 L602.50,808.86 L602.10,808.88 L602.10,808.88 L601.70,808.86 L601.69,808.86 L601.30,808.80 L601.29,808.80 L600.90,808.71 L600.90,808.70 L600.52,808.57 L600.52,808.57 L600.15,808.41 L600.15,808.40 L599.97,808.31 L584.57,799.42 L584.40,799.31 L584.40,799.31 L584.07,799.08 L584.07,799.07 L583.77,798.81 L583.77,798.81 L583.49,798.52 L583.49,798.52 L583.24,798.20 L583.24,798.20 L583.02,797.86 L583.02,797.86 L582.84,797.50 L582.83,797.50 L582.68,797.13 L582.68,797.12 L582.57,796.74 L582.57,796.73 L582.49,796.34 L582.49,796.34 L582.45,795.94 L582.45,795.94 L582.45,795.74 L582.45,780.41 L569.17,772.74 L569.00,772.64 L569.00,772.64 L568.67,772.40 L568.67,772.40 L568.37,772.14 L568.37,772.14 L568.09,771.85 L568.09,771.84 L567.84,771.53 L567.84,771.52 L567.62,771.19 L567.62,771.18 L567.44,770.83 L567.43,770.82 L567.28,770.45 L567.28,770.45 L567.17,770.07 L567.17,770.06 L567.09,769.67 L567.09,769.66 L567.05,769.27 L567.05,769.26 L567.05,769.06 L567.05,751.28 L567.05,751.08 L567.05,751.07 L567.09,750.68 L567.09,750.67 L567.17,750.28 L567.17,750.27 L567.28,749.89 L567.28,749.89 L567.43,749.52 L567.44,749.51 L567.62,749.16 L567.62,749.15 L567.84,748.82 L567.84,748.81 L568.09,748.50 L568.09,748.49 L568.37,748.20 L568.37,748.20 L568.67,747.94 L568.67,747.94 L569.00,747.70 L569.00,747.70 L569.17,747.60 L582.45,739.93 L582.45,724.60 L582.45,724.40 L582.45,724.40 L582.49,724.00 L582.49,724.00 L582.57,723.61 L582.57,723.60 L582.68,723.22 L582.68,723.21 L582.83,722.84 L582.84,722.84 L583.02,722.48 L583.02,722.48 L583.24,722.14 L583.24,722.14 L583.41,721.92"/>
<path d="M659.35,801.00 L659.35,801.39 L659.35,801.59 L659.35,801.60 L659.31,801.99 L659.31,802.00 L659.23,802.39 L659.23,802.40 L659.12,802.78 L659.12,802.78 L658.97,803.15 L658.96,803.16 L658.78,803.51 L658.78,803.52 L658.56,803.85 L658.56,803.86 L658.31,804.17 L658.31,804.18 L658.03,804.47 L658.03,804.47 L657.73,804.73 L657.73,804.73 L657.40,804.97 L657.40,804.97 L657.23,805.07 L641.83,813.96 L641.65,814.06 L641.65,814.06 L641.28,814.23 L641.28,814.23 L640.90,814.36 L640.90,814.36 L640.51,814.46 L640.50,814.46 L640.11,814.51 L640.10,814.51 L639.70,814.53 L639.70,814.53 L639.30,814.51 L639.29,814.51 L638.90,814.46 L638.89,814.46 L638.50,814.36 L638.50,814.36 L638.12,814.23 L638.12,814.23 L637.75,814.06 L637.75,814.06 L637.57,813.96 L622.17,805.07 L622.00,804.97 L622.00,804.97 L621.67,804.73 L621.67,804.73 L621.37,804.47 L621.37,804.47 L621.09,804.18 L621.09,804.17 L620.84,803.86 L620.84,803.85 L620.62,803.52 L620.62,803.51 L620.44,803.16 L620.43,803.15 L620.28,802.78 L620.28,802.78 L620.17,802.40 L620.17,802.39 L620.09,802.00 L620.09,801.99 L620.05,801.60 L620.05,801.59 L620.05,801.39 L620.05,800.00"/>
<path d="M667.92,716.23 L667.91,716.32 L667.91,716.32 L667.83,716.71 L667.83,716.72 L667.72,717.10 L667.72,717.11 L667.57,717.48 L667.56,717.48 L667.38,717.84 L667.38,717.84 L667.16,718.18 L667.16,718.18 L666.91,718.49 L666.91,718.50 L666.63,718.79 L666.63,718.79 L666.33,719.05 L666.33,719.06 L666.00,719.29 L666.00,719.29 L665.83,719.39 L650.43,728.29 L650.25,728.38 L650.25,728.38 L649.88,728.55 L649.88,728.55 L649.50,728.68 L649.50,728.68 L649.11,728.78 L649.10,728.78 L648.71,728.84 L648.70,728.84 L648.30,728.85 L648.30,728.85 L647.90,728.84 L647.89,728.84 L647.50,728.78 L647.49,728.78 L647.10,728.68 L647.10,728.68 L646.72,728.55 L646.72,728.55 L646.35,728.38 L646.35,728.38 L646.17,728.29 L630.77,719.39 L630.60,719.29 L630.60,719.29 L630.27,719.06 L630.27,719.05 L629.97,718.79 L629.97,718.79 L629.69,718.50 L629.69,718.49 L629.44,718.18 L629.44,718.18 L629.22,717.84 L629.22,717.84 L629.04,717.48 L629.03,717.48 L628.88,717.11 L628.88,717.10 L628.77,716.72 L628.77,716.71 L628.69,716.32 L628.69,716.32 L628.68,716.16"/>
</g>
<text x="219.77" y="626.95" font-size="10.49" textLength="25.47" lengthAdjust="spacingAndGlyphs" fill="#000" stroke="#000" stroke-width="0.15">NWN</text>
<text x="252.39" y="626.95" font-size="10.49" textLength="21.81" lengthAdjust="spacingAndGlyphs" fill="#000" stroke="#000" stroke-width="0.15">NEN</text>
<text x="204.69" y="653.62" font-size="10.49" textLength="24.81" lengthAdjust="spacingAndGlyphs" fill="#000" stroke="#000" stroke-width="0.15">WNA</text>
<text x="236.98" y="653.62" font-size="10.49" textLength="21.84" lengthAdjust="spacingAndGlyphs" fill="#000" stroke="#000" stroke-width="0.15">CNA</text>
<text x="268.12" y="653.62" font-size="10.49" textLength="21.16" lengthAdjust="spacingAndGlyphs" fill="#000" stroke="#000" stroke-width="0.15">ENA</text>
<text x="221.58" y="680.30" font-size="10.49" textLength="21.84" lengthAdjust="spacingAndGlyphs" fill="#000" stroke="#000" stroke-width="0.15">NCA</text>
<text x="237.56" y="706.97" font-size="10.49" textLength="20.68" lengthAdjust="spacingAndGlyphs" fill="#000" stroke="#000" stroke-width="0.15">SCA</text>
<text x="268.05" y="706.97" font-size="10.49" textLength="21.29" lengthAdjust="spacingAndGlyphs" fill="#000" stroke="#000" stroke-width="0.15">CAR</text>
<text x="281.95" y="733.65" font-size="10.49" textLength="24.31" lengthAdjust="spacingAndGlyphs" fill="#000" stroke="#000" stroke-width="0.15">NWS</text>
<text x="314.31" y="733.65" font-size="10.49" textLength="21.19" lengthAdjust="spacingAndGlyphs" fill="#000" stroke="#000" stroke-width="0.15">NSA</text>
<text x="298.32" y="760.32" font-size="10.49" textLength="22.36" lengthAdjust="spacingAndGlyphs" fill="#000" stroke="#000" stroke-width="0.15">SAM</text>
<text x="329.97" y="760.32" font-size="10.49" textLength="20.65" lengthAdjust="spacingAndGlyphs" fill="#000" stroke="#000" stroke-width="0.15">NES</text>
<text x="282.53" y="786.99" font-size="10.49" textLength="23.15" lengthAdjust="spacingAndGlyphs" fill="#000" stroke="#000" stroke-width="0.15">SWS</text>
<text x="315.16" y="786.99" font-size="10.49" textLength="19.49" lengthAdjust="spacingAndGlyphs" fill="#000" stroke="#000" stroke-width="0.15">SES</text>
<text x="299.49" y="813.67" font-size="10.49" textLength="20.02" lengthAdjust="spacingAndGlyphs" fill="#000" stroke="#000" stroke-width="0.15">SSA</text>
<text x="406.48" y="626.95" font-size="10.49" textLength="21.65" lengthAdjust="spacingAndGlyphs" fill="#000" stroke="#000" stroke-width="0.15">NEU</text>
<text x="499.07" y="626.95" font-size="10.49" textLength="21.26" lengthAdjust="spacingAndGlyphs" fill="#000" stroke="#000" stroke-width="0.15">RAR</text>
<text x="390.02" y="653.62" font-size="10.49" textLength="23.77" lengthAdjust="spacingAndGlyphs" fill="#000" stroke="#000" stroke-width="0.15">WCE</text>
<text x="422.47" y="653.62" font-size="10.49" textLength="20.45" lengthAdjust="spacingAndGlyphs" fill="#000" stroke="#000" stroke-width="0.15">EEU</text>
<text x="451.66" y="653.62" font-size="10.49" textLength="23.67" lengthAdjust="spacingAndGlyphs" fill="#000" stroke="#000" stroke-width="0.15">WSB</text>
<text x="484.29" y="653.62" font-size="10.49" textLength="20.01" lengthAdjust="spacingAndGlyphs" fill="#000" stroke="#000" stroke-width="0.15">ESB</text>
<text x="515.35" y="653.62" font-size="10.49" textLength="19.49" lengthAdjust="spacingAndGlyphs" fill="#000" stroke="#000" stroke-width="0.15">RFE</text>
<text x="405.69" y="680.30" font-size="10.49" textLength="23.21" lengthAdjust="spacingAndGlyphs" fill="#000" stroke="#000" stroke-width="0.15">MED</text>
<text x="435.95" y="680.30" font-size="10.49" textLength="24.30" lengthAdjust="spacingAndGlyphs" fill="#000" stroke="#000" stroke-width="0.15">WCA</text>
<text x="468.58" y="680.30" font-size="10.49" textLength="20.65" lengthAdjust="spacingAndGlyphs" fill="#000" stroke="#000" stroke-width="0.15">ECA</text>
<text x="501.54" y="680.30" font-size="10.49" textLength="16.32" lengthAdjust="spacingAndGlyphs" fill="#000" stroke="#000" stroke-width="0.15">TIB</text>
<text x="530.50" y="680.30" font-size="10.49" textLength="19.99" lengthAdjust="spacingAndGlyphs" fill="#000" stroke="#000" stroke-width="0.15">EAS</text>
<text x="391.29" y="706.97" font-size="10.49" textLength="21.23" lengthAdjust="spacingAndGlyphs" fill="#000" stroke="#000" stroke-width="0.15">SAH</text>
<text x="422.54" y="706.97" font-size="10.49" textLength="20.31" lengthAdjust="spacingAndGlyphs" fill="#000" stroke="#000" stroke-width="0.15">ARP</text>
<text x="484.29" y="706.97" font-size="10.49" textLength="20.02" lengthAdjust="spacingAndGlyphs" fill="#000" stroke="#000" stroke-width="0.15">SAS</text>
<text x="545.90" y="706.97" font-size="10.49" textLength="19.99" lengthAdjust="spacingAndGlyphs" fill="#000" stroke="#000" stroke-width="0.15">SEA</text>
<text x="374.98" y="733.65" font-size="10.49" textLength="23.04" lengthAdjust="spacingAndGlyphs" fill="#000" stroke="#000" stroke-width="0.15">WAF</text>
<text x="407.27" y="733.65" font-size="10.49" textLength="20.06" lengthAdjust="spacingAndGlyphs" fill="#000" stroke="#000" stroke-width="0.15">CAF</text>
<text x="434.57" y="733.65" font-size="10.49" textLength="27.05" lengthAdjust="spacingAndGlyphs" fill="#000" stroke="#000" stroke-width="0.15">NEAF</text>
<text x="387.13" y="760.32" font-size="10.49" textLength="29.55" lengthAdjust="spacingAndGlyphs" fill="#000" stroke="#000" stroke-width="0.15">WSAF</text>
<text x="419.75" y="760.32" font-size="10.49" textLength="25.89" lengthAdjust="spacingAndGlyphs" fill="#000" stroke="#000" stroke-width="0.15">SEAF</text>
<text x="404.35" y="786.99" font-size="10.49" textLength="25.89" lengthAdjust="spacingAndGlyphs" fill="#000" stroke="#000" stroke-width="0.15">ESAF</text>
<text x="591.01" y="733.65" font-size="10.49" textLength="22.18" lengthAdjust="spacingAndGlyphs" fill="#000" stroke="#000" stroke-width="0.15">NAU</text>
<text x="575.86" y="760.32" font-size="10.49" textLength="21.67" lengthAdjust="spacingAndGlyphs" fill="#000" stroke="#000" stroke-width="0.15">CAU</text>
<text x="607.00" y="760.32" font-size="10.49" textLength="20.99" lengthAdjust="spacingAndGlyphs" fill="#000" stroke="#000" stroke-width="0.15">EAU</text>
<text x="591.59" y="786.99" font-size="10.49" textLength="21.02" lengthAdjust="spacingAndGlyphs" fill="#000" stroke="#000" stroke-width="0.15">SAU</text>
<text x="638.13" y="706.97" font-size="10.49" textLength="20.35" lengthAdjust="spacingAndGlyphs" fill="#000" stroke="#000" stroke-width="0.15">PAC</text>
<text x="291.94" y="621.65" font-size="10.49" textLength="18.12" lengthAdjust="spacingAndGlyphs" fill="#000" stroke="#000" stroke-width="0.15">GIC</text>
<text x="458.66" y="765.35" font-size="10.49" textLength="24.68" lengthAdjust="spacingAndGlyphs" fill="#000" stroke="#000" stroke-width="0.15">MDG</text>
<text x="632.36" y="792.65" font-size="10.49" textLength="14.69" lengthAdjust="spacingAndGlyphs" fill="#000" stroke="#000" stroke-width="0.15">NZ</text>
<rect x="32.96" y="822.29" width="12.94" height="2.91" fill="#450a5e" stroke="#7a7a7a" stroke-width="0.6"/>
<rect x="45.90" y="799.05" width="12.94" height="26.15" fill="#482f80" stroke="#7a7a7a" stroke-width="0.6"/>
<rect x="58.84" y="778.71" width="12.94" height="46.49" fill="#3f5590" stroke="#7a7a7a" stroke-width="0.6"/>
<rect x="71.78" y="810.67" width="12.94" height="14.53" fill="#3a7a8c" stroke="#7a7a7a" stroke-width="0.6"/>
<rect x="97.66" y="819.39" width="12.94" height="5.81" fill="#56bd8a" stroke="#7a7a7a" stroke-width="0.6"/>
<rect x="110.60" y="822.29" width="12.94" height="2.91" fill="#6ae06a" stroke="#7a7a7a" stroke-width="0.6"/>
<rect x="123.54" y="822.29" width="12.94" height="2.91" fill="#aaea3e" stroke="#7a7a7a" stroke-width="0.6"/>
<rect x="136.48" y="819.39" width="12.94" height="5.81" fill="#eeee40" stroke="#7a7a7a" stroke-width="0.6"/>
<line x1="32.96" y1="825.20" x2="162.36" y2="825.20" stroke="#333" stroke-width="1"/>
<line x1="32.96" y1="825.20" x2="32.96" y2="827.60" stroke="#333" stroke-width="0.8"/>
<line x1="45.90" y1="825.20" x2="45.90" y2="827.60" stroke="#333" stroke-width="0.8"/>
<line x1="58.84" y1="825.20" x2="58.84" y2="827.60" stroke="#333" stroke-width="0.8"/>
<line x1="71.78" y1="825.20" x2="71.78" y2="827.60" stroke="#333" stroke-width="0.8"/>
<line x1="84.72" y1="825.20" x2="84.72" y2="827.60" stroke="#333" stroke-width="0.8"/>
<line x1="97.66" y1="825.20" x2="97.66" y2="827.60" stroke="#333" stroke-width="0.8"/>
<line x1="110.60" y1="825.20" x2="110.60" y2="827.60" stroke="#333" stroke-width="0.8"/>
<line x1="123.54" y1="825.20" x2="123.54" y2="827.60" stroke="#333" stroke-width="0.8"/>
<line x1="136.48" y1="825.20" x2="136.48" y2="827.60" stroke="#333" stroke-width="0.8"/>
<line x1="149.42" y1="825.20" x2="149.42" y2="827.60" stroke="#333" stroke-width="0.8"/>
<text x="38.23" y="837.10" font-size="9.83" textLength="15.72" lengthAdjust="spacingAndGlyphs" fill="#222" stroke="#222" stroke-width="0.15">-95</text>
<text x="64.11" y="837.10" font-size="9.83" textLength="15.72" lengthAdjust="spacingAndGlyphs" fill="#222" stroke="#222" stroke-width="0.15">-85</text>
<text x="89.99" y="837.10" font-size="9.83" textLength="15.72" lengthAdjust="spacingAndGlyphs" fill="#222" stroke="#222" stroke-width="0.15">-75</text>
<text x="115.87" y="837.10" font-size="9.83" textLength="15.72" lengthAdjust="spacingAndGlyphs" fill="#222" stroke="#222" stroke-width="0.15">-65</text>
<text x="137.02" y="837.10" font-size="9.83" textLength="24.87" lengthAdjust="spacingAndGlyphs" fill="#222" stroke="#222" stroke-width="0.15">-55%</text>
<line x1="30.2" y1="825.20" x2="33.0" y2="825.20" stroke="#333" stroke-width="0.8"/>
<text x="21.93" y="828.90" font-size="9.83" textLength="6.12" lengthAdjust="spacingAndGlyphs" fill="#222" stroke="#222" stroke-width="0.15">0</text>
<line x1="30.2" y1="803.70" x2="33.0" y2="803.70" stroke="#333" stroke-width="0.8"/>
<text x="15.81" y="807.40" font-size="9.83" textLength="12.25" lengthAdjust="spacingAndGlyphs" fill="#222" stroke="#222" stroke-width="0.15">20</text>
<line x1="30.2" y1="782.20" x2="33.0" y2="782.20" stroke="#333" stroke-width="0.8"/>
<text x="15.81" y="785.90" font-size="9.83" textLength="12.25" lengthAdjust="spacingAndGlyphs" fill="#222" stroke="#222" stroke-width="0.15">40</text>
<line x1="30.2" y1="760.70" x2="33.0" y2="760.70" stroke="#333" stroke-width="0.8"/>
<text x="15.81" y="764.40" font-size="9.83" textLength="12.25" lengthAdjust="spacingAndGlyphs" fill="#222" stroke="#222" stroke-width="0.15">60</text>
<line x1="30.2" y1="739.20" x2="33.0" y2="739.20" stroke="#333" stroke-width="0.8"/>
<text x="15.81" y="742.90" font-size="9.83" textLength="12.25" lengthAdjust="spacingAndGlyphs" fill="#222" stroke="#222" stroke-width="0.15">80</text>
<line x1="30.2" y1="717.70" x2="33.0" y2="717.70" stroke="#333" stroke-width="0.8"/>
<text x="0.42" y="721.40" font-size="9.83" textLength="27.52" lengthAdjust="spacingAndGlyphs" fill="#222" stroke="#222" stroke-width="0.15">100%</text>
<text x="-0.14" y="704.00" font-size="9.83" textLength="38.40" lengthAdjust="spacingAndGlyphs" fill="#222" stroke="#222" stroke-width="0.15">Regions</text>
<text x="61.27" y="853.10" font-size="9.83" textLength="73.84" lengthAdjust="spacingAndGlyphs" fill="#222" stroke="#222" stroke-width="0.15">Relative bias in</text>
<text x="39.35" y="863.20" font-size="9.83" textLength="116.78" lengthAdjust="spacingAndGlyphs" fill="#222" stroke="#222" stroke-width="0.15">impervious surface area</text>
</svg></body></html>
